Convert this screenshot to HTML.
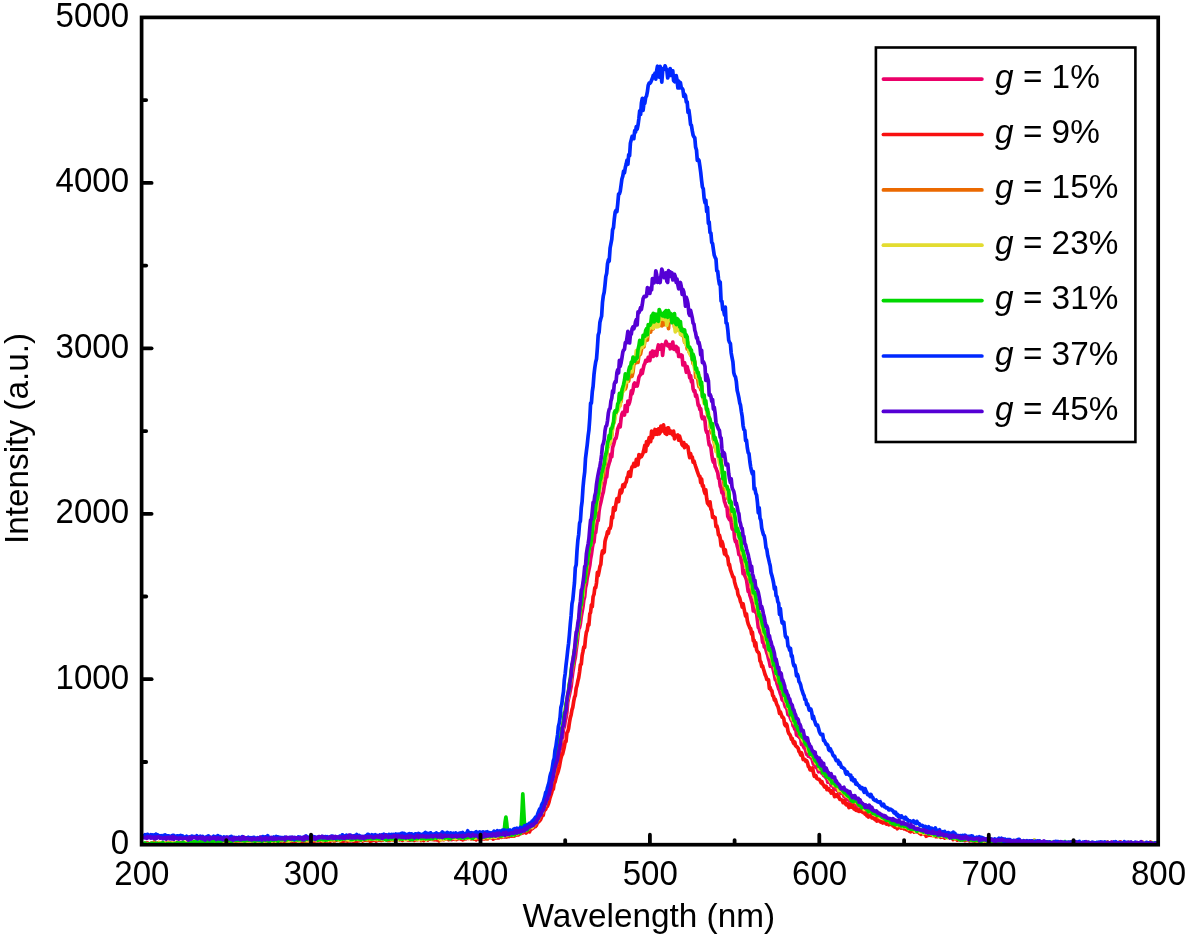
<!DOCTYPE html>
<html lang="en"><head><meta charset="utf-8"><title>Emission spectra</title>
<style>
html,body{margin:0;padding:0;background:#fff;}
svg{display:block;filter:blur(0.5px);}
text{font-family:"Liberation Sans",Arial,Helvetica,sans-serif;font-size:33.33px;fill:#000;}
.curves path{fill:none;stroke-width:3.7;stroke-linejoin:round;stroke-linecap:round;}
.ax line{stroke:#000;stroke-width:3.8;stroke-linecap:round;}
.lg line{stroke-width:3.7;stroke-linecap:round;}
</style></head><body>
<svg width="1187" height="937" viewBox="0 0 1187 937">
<rect x="0" y="0" width="1187" height="937" fill="#fff"/>
<defs><clipPath id="pc"><rect x="141.6" y="17.4" width="1016.6" height="827.3"/></clipPath></defs>
<g class="curves" clip-path="url(#pc)">
<path d="M141.6,844.0 142.4,843.8 143.3,844.2 144.1,844.6 145.0,844.3 145.8,844.7 146.7,843.9 147.5,843.1 148.4,844.3 149.2,844.4 150.1,843.6 150.9,843.7 151.8,843.8 152.6,844.5 153.5,843.9 154.3,843.4 155.2,844.7 156.0,844.2 156.8,844.7 157.7,844.7 158.5,844.7 159.4,844.0 160.2,844.7 161.1,843.6 161.9,843.7 162.8,843.9 163.6,844.7 164.5,844.1 165.3,843.8 166.2,843.7 167.0,844.7 167.9,844.1 168.7,844.4 169.6,844.3 170.4,843.0 171.3,844.2 172.1,843.7 172.9,843.1 173.8,844.1 174.6,843.7 175.5,843.6 176.3,843.6 177.2,844.4 178.0,843.6 178.9,842.7 179.7,844.6 180.6,843.0 181.4,843.5 182.3,844.0 183.1,842.2 184.0,843.0 184.8,844.3 185.7,843.4 186.5,843.0 187.3,843.5 188.2,842.8 189.0,843.3 189.9,842.8 190.7,842.2 191.6,843.6 192.4,842.9 193.3,843.3 194.1,842.9 195.0,843.8 195.8,843.3 196.7,843.0 197.5,842.2 198.4,842.0 199.2,843.6 200.1,843.2 200.9,842.2 201.7,843.9 202.6,842.8 203.4,842.5 204.3,841.6 205.1,841.9 206.0,842.6 206.8,842.5 207.7,842.4 208.5,841.1 209.4,842.4 210.2,842.3 211.1,841.8 211.9,842.1 212.8,842.1 213.6,842.7 214.5,841.9 215.3,842.1 216.2,841.0 217.0,841.3 217.8,841.7 218.7,841.2 219.5,841.8 220.4,840.8 221.2,841.5 222.1,841.0 222.9,842.3 223.8,841.1 224.6,842.5 225.5,842.7 226.3,841.4 227.2,841.8 228.0,841.1 228.9,839.6 229.7,841.8 230.6,841.6 231.4,841.0 232.2,840.8 233.1,841.2 233.9,841.3 234.8,840.6 235.6,840.7 236.5,841.8 237.3,841.1 238.2,841.0 239.0,841.8 239.9,840.8 240.7,841.6 241.6,840.3 242.4,840.8 243.3,840.9 244.1,841.4 245.0,841.0 245.8,842.3 246.6,841.7 247.5,840.6 248.3,842.4 249.2,840.3 250.0,842.1 250.9,840.3 251.7,841.4 252.6,840.3 253.4,840.7 254.3,841.9 255.1,839.9 256.0,839.7 256.8,840.8 257.7,840.9 258.5,840.8 259.4,841.4 260.2,839.9 261.1,841.1 261.9,840.7 262.7,841.2 263.6,841.1 264.4,841.5 265.3,839.7 266.1,840.7 267.0,839.9 267.8,840.6 268.7,841.1 269.5,840.8 270.4,840.9 271.2,840.5 272.1,840.8 272.9,840.7 273.8,841.5 274.6,841.0 275.5,839.3 276.3,840.9 277.1,841.2 278.0,840.2 278.8,839.4 279.7,841.4 280.5,840.5 281.4,840.8 282.2,841.6 283.1,839.8 283.9,840.3 284.8,840.3 285.6,840.8 286.5,840.0 287.3,840.7 288.2,840.4 289.0,841.0 289.9,841.1 290.7,839.3 291.5,840.6 292.4,840.0 293.2,840.2 294.1,840.5 294.9,840.5 295.8,839.7 296.6,840.3 297.5,840.2 298.3,840.1 299.2,839.2 300.0,839.6 300.9,839.8 301.7,840.5 302.6,841.0 303.4,839.3 304.3,839.3 305.1,840.1 306.0,839.6 306.8,839.4 307.6,839.4 308.5,839.3 309.3,840.3 310.2,838.8 311.0,840.8 311.9,839.3 312.7,839.5 313.6,839.2 314.4,838.5 315.3,838.8 316.1,840.7 317.0,841.1 317.8,839.2 318.7,840.5 319.5,839.8 320.4,839.2 321.2,841.0 322.0,841.3 322.9,839.6 323.7,839.7 324.6,839.9 325.4,839.7 326.3,840.3 327.1,840.8 328.0,839.8 328.8,840.4 329.7,840.9 330.5,839.3 331.4,839.7 332.2,839.4 333.1,840.4 333.9,840.1 334.8,840.4 335.6,840.3 336.4,839.5 337.3,840.2 338.1,839.3 339.0,839.3 339.8,838.1 340.7,840.6 341.5,838.9 342.4,839.6 343.2,839.5 344.1,840.6 344.9,839.8 345.8,839.0 346.6,839.5 347.5,839.4 348.3,839.7 349.2,838.6 350.0,839.5 350.9,841.0 351.7,839.9 352.5,840.9 353.4,841.8 354.2,839.8 355.1,838.4 355.9,839.3 356.8,840.2 357.6,840.0 358.5,838.5 359.3,839.2 360.2,839.3 361.0,839.4 361.9,839.3 362.7,838.7 363.6,838.9 364.4,839.1 365.3,840.0 366.1,838.9 366.9,839.7 367.8,838.4 368.6,840.2 369.5,839.3 370.3,839.2 371.2,840.2 372.0,837.9 372.9,838.1 373.7,839.5 374.6,838.6 375.4,838.9 376.3,841.1 377.1,838.9 378.0,839.2 378.8,839.0 379.7,839.9 380.5,839.3 381.3,839.2 382.2,838.2 383.0,838.8 383.9,839.1 384.7,837.9 385.6,839.4 386.4,839.3 387.3,840.3 388.1,837.8 389.0,838.3 389.8,838.3 390.7,838.5 391.5,838.9 392.4,838.8 393.2,839.1 394.1,839.1 394.9,838.9 395.8,837.8 396.6,838.5 397.4,838.9 398.3,839.3 399.1,839.3 400.0,837.7 400.8,838.5 401.7,838.8 402.5,839.1 403.4,839.6 404.2,838.8 405.1,838.1 405.9,839.1 406.8,838.9 407.6,838.9 408.5,838.6 409.3,839.9 410.2,838.9 411.0,839.3 411.8,838.0 412.7,839.2 413.5,838.2 414.4,837.5 415.2,838.9 416.1,839.1 416.9,838.5 417.8,838.6 418.6,839.3 419.5,838.2 420.3,837.1 421.2,838.7 422.0,838.7 422.9,839.3 423.7,838.3 424.6,839.4 425.4,839.3 426.2,837.5 427.1,839.1 427.9,837.6 428.8,837.3 429.6,838.2 430.5,838.0 431.3,837.0 432.2,838.5 433.0,838.8 433.9,839.4 434.7,838.3 435.6,837.2 436.4,837.6 437.3,839.0 438.1,838.9 439.0,838.7 439.8,838.1 440.6,838.4 441.5,838.1 442.3,838.0 443.2,838.4 444.0,838.2 444.9,838.0 445.7,838.2 446.6,837.8 447.4,836.8 448.3,837.7 449.1,838.1 450.0,839.4 450.8,837.8 451.7,839.5 452.5,839.1 453.4,837.4 454.2,837.5 455.1,838.1 455.9,839.3 456.7,838.3 457.6,838.5 458.4,837.5 459.3,836.3 460.1,837.8 461.0,838.5 461.8,838.8 462.7,837.9 463.5,838.0 464.4,838.7 465.2,837.8 466.1,838.7 466.9,837.0 467.8,837.0 468.6,837.0 469.5,838.1 470.3,837.3 471.1,837.8 472.0,838.0 472.8,837.9 473.7,838.6 474.5,838.7 475.4,837.0 476.2,837.7 477.1,837.4 477.9,836.8 478.8,838.8 479.6,838.1 480.5,837.4 481.3,837.1 482.2,837.7 483.0,836.6 483.9,837.1 484.7,838.2 485.5,837.9 486.4,836.5 487.2,836.7 488.1,838.5 488.9,835.9 489.8,836.5 490.6,835.8 491.5,837.1 492.3,837.0 493.2,837.5 494.0,834.7 494.9,836.7 495.7,835.3 496.6,836.9 497.4,836.2 498.3,837.6 499.1,836.5 500.0,835.4 500.8,837.0 501.6,835.2 502.5,835.7 503.3,836.6 504.2,836.1 505.0,836.0 505.9,835.6 506.7,835.9 507.6,836.0 508.4,835.5 509.3,836.0 510.1,836.0 511.0,835.0 511.8,834.1 512.7,835.8 513.5,834.5 514.4,834.9 515.2,835.0 516.0,833.3 516.9,834.2 517.7,832.4 518.6,834.0 519.4,832.8 520.3,833.1 521.1,833.3 522.0,831.9 522.8,832.2 523.7,831.3 524.5,831.5 525.4,832.0 526.2,830.8 527.1,830.3 527.9,829.1 528.8,830.2 529.6,828.9 530.4,829.8 531.3,827.1 532.1,827.9 533.0,827.9 533.8,825.5 534.7,823.6 535.5,825.0 536.4,823.6 537.2,822.3 538.1,821.5 538.9,818.8 539.8,818.6 540.6,817.0 541.5,814.2 542.3,813.9 543.2,810.9 544.0,810.5 544.9,808.7 545.7,807.3 546.5,801.0 547.4,801.0 548.2,797.9 549.1,795.5 549.9,792.5 550.8,789.7 551.6,784.3 552.5,784.7 553.3,782.0 554.2,777.8 555.0,774.6 555.9,768.2 556.7,764.2 557.6,762.8 558.4,759.3 559.3,753.7 560.1,746.8 560.9,748.7 561.8,739.0 562.6,736.8 563.5,728.7 564.3,727.2 565.2,721.0 566.0,717.9 566.9,711.9 567.7,702.6 568.6,698.2 569.4,694.9 570.3,690.3 571.1,686.7 572.0,678.4 572.8,672.1 573.7,666.6 574.5,661.0 575.3,657.3 576.2,649.6 577.0,644.0 577.9,635.7 578.7,628.9 579.6,627.5 580.4,623.3 581.3,616.3 582.1,612.0 583.0,606.8 583.8,599.9 584.7,596.7 585.5,587.7 586.4,584.1 587.2,578.0 588.1,573.9 588.9,570.0 589.8,565.5 590.6,558.8 591.4,554.7 592.3,547.9 593.1,543.5 594.0,542.0 594.8,533.7 595.7,532.4 596.5,526.0 597.4,520.6 598.2,520.6 599.1,510.6 599.9,506.0 600.8,502.5 601.6,498.9 602.5,494.6 603.3,492.1 604.2,486.2 605.0,482.9 605.8,477.3 606.7,477.0 607.5,469.3 608.4,465.9 609.2,463.0 610.1,460.3 610.9,454.1 611.8,456.8 612.6,447.6 613.5,445.0 614.3,441.7 615.2,438.4 616.0,438.3 616.9,434.2 617.7,428.9 618.6,426.7 619.4,424.7 620.2,426.9 621.1,418.4 621.9,414.1 622.8,412.2 623.6,412.0 624.5,415.0 625.3,405.5 626.2,406.6 627.0,411.5 627.9,401.0 628.7,404.5 629.6,402.1 630.4,398.3 631.3,390.9 632.1,393.9 633.0,390.3 633.8,384.2 634.7,382.9 635.5,386.1 636.3,384.8 637.2,386.0 638.0,382.5 638.9,377.3 639.7,375.6 640.6,374.5 641.4,370.0 642.3,373.4 643.1,369.3 644.0,365.1 644.8,363.7 645.7,360.4 646.5,360.6 647.4,361.1 648.2,357.4 649.1,360.1 649.9,360.6 650.7,352.5 651.6,353.3 652.4,351.1 653.3,356.4 654.1,351.5 655.0,351.5 655.8,351.7 656.7,355.5 657.5,349.2 658.4,345.0 659.2,346.4 660.1,349.2 660.9,347.2 661.8,344.7 662.6,355.4 663.5,347.2 664.3,345.1 665.1,344.6 666.0,341.4 666.8,343.2 667.7,345.8 668.5,345.9 669.4,344.6 670.2,348.8 671.1,347.6 671.9,345.0 672.8,342.1 673.6,349.1 674.5,349.4 675.3,349.3 676.2,346.5 677.0,351.6 677.9,348.0 678.7,356.5 679.6,355.3 680.4,356.6 681.2,355.0 682.1,355.6 682.9,365.0 683.8,364.9 684.6,362.8 685.5,367.7 686.3,372.3 687.2,366.6 688.0,370.3 688.9,372.5 689.7,377.7 690.6,375.6 691.4,381.8 692.3,380.3 693.1,388.8 694.0,391.3 694.8,390.8 695.6,396.2 696.5,395.0 697.3,399.0 698.2,405.3 699.0,405.3 699.9,409.5 700.7,408.8 701.6,416.3 702.4,418.7 703.3,417.1 704.1,417.2 705.0,421.0 705.8,429.6 706.7,432.3 707.5,431.7 708.4,439.5 709.2,445.1 710.0,445.2 710.9,447.4 711.7,454.1 712.6,459.6 713.4,462.1 714.3,459.6 715.1,466.6 716.0,468.2 716.8,470.4 717.7,472.5 718.5,478.2 719.4,479.2 720.2,486.1 721.1,487.9 721.9,492.8 722.8,490.3 723.6,496.5 724.5,501.6 725.3,503.7 726.1,506.6 727.0,507.4 727.8,516.5 728.7,518.2 729.5,519.7 730.4,515.5 731.2,522.7 732.1,528.5 732.9,529.6 733.8,529.5 734.6,538.3 735.5,541.7 736.3,541.0 737.2,545.9 738.0,548.6 738.9,554.6 739.7,551.9 740.5,555.6 741.4,561.4 742.2,564.3 743.1,573.7 743.9,570.6 744.8,575.7 745.6,577.3 746.5,579.8 747.3,585.3 748.2,591.4 749.0,589.8 749.9,595.4 750.7,597.5 751.6,601.1 752.4,603.6 753.3,610.9 754.1,606.2 754.9,611.3 755.8,612.5 756.6,613.6 757.5,620.8 758.3,627.6 759.2,628.6 760.0,632.1 760.9,633.5 761.7,635.2 762.6,642.3 763.4,640.4 764.3,647.0 765.1,646.1 766.0,649.7 766.8,652.9 767.7,655.1 768.5,658.8 769.4,661.6 770.2,666.3 771.0,665.8 771.9,664.8 772.7,667.2 773.6,671.0 774.4,674.7 775.3,679.8 776.1,678.4 777.0,683.6 777.8,686.0 778.7,688.9 779.5,690.5 780.4,693.8 781.2,695.5 782.1,699.6 782.9,700.6 783.8,698.2 784.6,704.5 785.4,706.9 786.3,707.7 787.1,709.5 788.0,714.7 788.8,715.2 789.7,715.4 790.5,718.4 791.4,720.6 792.2,720.2 793.1,725.8 793.9,726.4 794.8,729.2 795.6,727.8 796.5,735.1 797.3,734.8 798.2,736.3 799.0,736.1 799.8,737.9 800.7,738.3 801.5,744.5 802.4,742.5 803.2,745.7 804.1,747.8 804.9,747.5 805.8,751.1 806.6,754.3 807.5,753.2 808.3,756.2 809.2,756.4 810.0,756.3 810.9,757.7 811.7,757.2 812.6,761.0 813.4,764.1 814.3,764.3 815.1,765.7 815.9,767.3 816.8,766.2 817.6,768.9 818.5,771.8 819.3,769.3 820.2,771.5 821.0,771.9 821.9,773.3 822.7,773.7 823.6,775.5 824.4,774.9 825.3,776.9 826.1,777.9 827.0,778.9 827.8,782.2 828.7,781.4 829.5,782.5 830.3,782.7 831.2,785.6 832.0,782.7 832.9,785.4 833.7,787.9 834.6,789.3 835.4,788.4 836.3,788.9 837.1,790.4 838.0,790.2 838.8,791.8 839.7,791.2 840.5,793.4 841.4,793.3 842.2,792.8 843.1,791.7 843.9,796.5 844.7,796.6 845.6,797.7 846.4,796.4 847.3,799.3 848.1,799.2 849.0,799.3 849.8,801.0 850.7,801.5 851.5,801.6 852.4,804.0 853.2,803.8 854.1,803.3 854.9,803.2 855.8,804.2 856.6,806.4 857.5,805.6 858.3,804.8 859.2,805.6 860.0,806.8 860.8,808.1 861.7,807.0 862.5,808.8 863.4,809.9 864.2,810.0 865.1,808.2 865.9,810.0 866.8,809.5 867.6,811.6 868.5,810.6 869.3,812.7 870.2,812.7 871.0,810.4 871.9,812.6 872.7,814.3 873.6,814.4 874.4,814.4 875.2,813.9 876.1,816.0 876.9,817.7 877.8,816.6 878.6,816.7 879.5,817.1 880.3,816.3 881.2,817.6 882.0,817.5 882.9,819.8 883.7,818.3 884.6,817.5 885.4,819.1 886.3,819.9 887.1,820.4 888.0,819.2 888.8,822.1 889.6,821.7 890.5,821.5 891.3,821.6 892.2,823.0 893.0,822.6 893.9,823.5 894.7,823.5 895.6,824.0 896.4,825.2 897.3,824.5 898.1,824.0 899.0,826.0 899.8,825.6 900.7,825.1 901.5,826.9 902.4,826.1 903.2,827.5 904.1,825.8 904.9,825.1 905.7,825.6 906.6,827.8 907.4,827.3 908.3,828.1 909.1,828.3 910.0,827.3 910.8,830.0 911.7,828.3 912.5,829.4 913.4,828.5 914.2,829.7 915.1,830.7 915.9,830.1 916.8,829.9 917.6,830.7 918.5,830.6 919.3,831.6 920.1,833.2 921.0,830.9 921.8,831.3 922.7,831.9 923.5,832.2 924.4,831.6 925.2,833.0 926.1,833.4 926.9,833.2 927.8,832.3 928.6,834.5 929.5,832.6 930.3,834.3 931.2,834.8 932.0,833.1 932.9,834.4 933.7,835.5 934.5,834.9 935.4,834.0 936.2,834.0 937.1,835.4 937.9,834.9 938.8,834.8 939.6,836.1 940.5,835.4 941.3,835.9 942.2,836.4 943.0,836.5 943.9,836.2 944.7,836.4 945.6,837.0 946.4,837.0 947.3,835.9 948.1,836.7 948.9,836.4 949.8,836.2 950.6,836.8 951.5,835.7 952.3,838.1 953.2,837.0 954.0,838.0 954.9,836.4 955.7,836.7 956.6,839.5 957.4,838.9 958.3,837.7 959.1,837.7 960.0,837.9 960.8,838.6 961.7,838.3 962.5,838.2 963.4,838.8 964.2,838.1 965.0,840.6 965.9,838.6 966.7,839.9 967.6,838.5 968.4,839.4 969.3,840.0 970.1,839.2 971.0,840.2 971.8,840.2 972.7,840.8 973.5,839.7 974.4,839.4 975.2,839.1 976.1,840.0 976.9,839.2 977.8,840.0 978.6,840.2 979.4,839.7 980.3,839.5 981.1,840.5 982.0,840.5 982.8,840.5 983.7,840.4 984.5,841.1 985.4,839.8 986.2,840.9 987.1,840.3 987.9,841.3 988.8,840.5 989.6,840.5 990.5,841.2 991.3,839.5 992.2,840.7 993.0,839.7 993.8,840.4 994.7,841.6 995.5,841.4 996.4,840.9 997.2,841.2 998.1,841.3 998.9,841.5 999.8,842.7 1000.6,841.6 1001.5,843.0 1002.3,841.2 1003.2,842.1 1004.0,842.1 1004.9,841.8 1005.7,841.5 1006.6,842.7 1007.4,843.0 1008.3,842.5 1009.1,843.3 1009.9,842.5 1010.8,840.8 1011.6,842.7 1012.5,841.5 1013.3,843.0 1014.2,841.8 1015.0,842.3 1015.9,842.1 1016.7,841.7 1017.6,840.9 1018.4,842.1 1019.3,842.1 1020.1,842.9 1021.0,841.9 1021.8,842.5 1022.7,841.8 1023.5,842.4 1024.3,841.2 1025.2,843.8 1026.0,842.7 1026.9,841.9 1027.7,842.8 1028.6,843.1 1029.4,842.7 1030.3,843.5 1031.1,842.5 1032.0,841.0 1032.8,841.9 1033.7,843.5 1034.5,843.3 1035.4,843.0 1036.2,842.1 1037.1,843.4 1037.9,843.3 1038.7,842.2 1039.6,842.3 1040.4,843.1 1041.3,843.7 1042.1,844.0 1043.0,843.4 1043.8,844.5 1044.7,842.5 1045.5,843.5 1046.4,842.7 1047.2,841.8 1048.1,842.3 1048.9,843.9 1049.8,842.5 1050.6,842.4 1051.5,843.7 1052.3,843.8 1053.2,843.3 1054.0,844.3 1054.8,842.2 1055.7,844.7 1056.5,844.0 1057.4,843.5 1058.2,843.5 1059.1,843.2 1059.9,843.1 1060.8,843.5 1061.6,842.6 1062.5,844.7 1063.3,843.4 1064.2,843.9 1065.0,843.3 1065.9,843.2 1066.7,844.0 1067.6,843.8 1068.4,842.9 1069.2,843.2 1070.1,843.9 1070.9,842.0 1071.8,841.9 1072.6,844.4 1073.5,843.2 1074.3,841.8 1075.2,842.9 1076.0,843.3 1076.9,843.6 1077.7,843.8 1078.6,843.6 1079.4,843.9 1080.3,843.0 1081.1,843.8 1082.0,843.8 1082.8,844.3 1083.6,843.6 1084.5,844.1 1085.3,843.7 1086.2,842.8 1087.0,843.3 1087.9,843.2 1088.7,843.3 1089.6,843.5 1090.4,843.7 1091.3,843.8 1092.1,843.1 1093.0,844.3 1093.8,842.7 1094.7,843.6 1095.5,844.1 1096.4,844.0 1097.2,844.1 1098.1,843.5 1098.9,844.1 1099.7,842.9 1100.6,844.2 1101.4,844.7 1102.3,844.2 1103.1,844.7 1104.0,843.7 1104.8,843.0 1105.7,843.3 1106.5,844.6 1107.4,844.2 1108.2,842.5 1109.1,843.5 1109.9,843.7 1110.8,843.0 1111.6,842.1 1112.5,842.9 1113.3,843.6 1114.1,843.5 1115.0,843.3 1115.8,844.2 1116.7,844.5 1117.5,843.7 1118.4,844.4 1119.2,843.8 1120.1,843.7 1120.9,842.2 1121.8,844.4 1122.6,843.9 1123.5,843.9 1124.3,843.5 1125.2,843.1 1126.0,844.2 1126.9,844.4 1127.7,844.7 1128.5,844.5 1129.4,843.5 1130.2,843.8 1131.1,844.5 1131.9,844.1 1132.8,843.8 1133.6,843.5 1134.5,844.3 1135.3,844.1 1136.2,844.7 1137.0,844.7 1137.9,842.8 1138.7,844.7 1139.6,844.1 1140.4,843.8 1141.3,844.2 1142.1,844.5 1143.0,844.0 1143.8,843.9 1144.6,844.0 1145.5,844.7 1146.3,844.1 1147.2,844.5 1148.0,844.3 1148.9,843.8 1149.7,843.6 1150.6,843.4 1151.4,844.3 1152.3,843.4 1153.1,843.2 1154.0,843.2 1154.8,843.1 1155.7,844.1 1156.5,844.1 1157.4,843.5 1158.2,844.7" stroke="#EB0069"/>
<path d="M141.6,843.6 142.4,844.1 143.3,843.9 144.1,844.7 145.0,844.3 145.8,843.7 146.7,843.1 147.5,843.0 148.4,843.7 149.2,843.8 150.1,844.2 150.9,843.4 151.8,843.8 152.6,843.2 153.5,842.4 154.3,843.6 155.2,844.6 156.0,844.2 156.8,844.6 157.7,844.4 158.5,842.7 159.4,843.4 160.2,844.6 161.1,843.1 161.9,842.7 162.8,843.8 163.6,844.0 164.5,843.8 165.3,843.3 166.2,843.1 167.0,842.7 167.9,842.7 168.7,842.7 169.6,842.6 170.4,843.0 171.3,844.5 172.1,843.6 172.9,843.2 173.8,843.7 174.6,842.8 175.5,843.7 176.3,844.1 177.2,842.4 178.0,843.0 178.9,843.3 179.7,842.8 180.6,842.7 181.4,843.2 182.3,844.7 183.1,843.8 184.0,843.7 184.8,844.0 185.7,843.2 186.5,842.5 187.3,843.6 188.2,844.0 189.0,841.8 189.9,843.5 190.7,844.0 191.6,842.9 192.4,842.8 193.3,843.5 194.1,842.5 195.0,843.3 195.8,843.6 196.7,842.8 197.5,842.4 198.4,843.3 199.2,842.6 200.1,842.9 200.9,840.8 201.7,843.2 202.6,841.8 203.4,842.7 204.3,842.7 205.1,842.1 206.0,842.0 206.8,841.7 207.7,842.3 208.5,842.9 209.4,842.9 210.2,842.1 211.1,842.0 211.9,841.4 212.8,842.1 213.6,841.6 214.5,841.3 215.3,842.2 216.2,843.3 217.0,843.0 217.8,843.2 218.7,841.0 219.5,842.7 220.4,841.2 221.2,841.7 222.1,840.8 222.9,841.3 223.8,842.0 224.6,842.1 225.5,841.9 226.3,841.8 227.2,842.2 228.0,841.9 228.9,840.7 229.7,843.0 230.6,841.6 231.4,842.4 232.2,841.7 233.1,841.2 233.9,841.8 234.8,841.2 235.6,842.9 236.5,841.0 237.3,842.1 238.2,841.3 239.0,841.6 239.9,843.5 240.7,842.2 241.6,841.5 242.4,840.5 243.3,841.4 244.1,841.4 245.0,842.6 245.8,840.6 246.6,840.3 247.5,841.5 248.3,841.7 249.2,842.7 250.0,840.9 250.9,839.6 251.7,841.0 252.6,840.6 253.4,841.1 254.3,842.1 255.1,840.5 256.0,842.3 256.8,841.6 257.7,841.2 258.5,840.8 259.4,841.1 260.2,841.1 261.1,841.9 261.9,842.2 262.7,841.3 263.6,841.8 264.4,842.2 265.3,842.2 266.1,841.6 267.0,842.6 267.8,842.2 268.7,842.4 269.5,841.1 270.4,840.9 271.2,839.8 272.1,842.2 272.9,841.6 273.8,840.5 274.6,841.3 275.5,841.4 276.3,839.9 277.1,841.3 278.0,841.9 278.8,842.0 279.7,840.8 280.5,840.8 281.4,842.0 282.2,841.7 283.1,840.6 283.9,840.6 284.8,841.4 285.6,840.5 286.5,840.5 287.3,842.2 288.2,841.1 289.0,840.6 289.9,841.3 290.7,842.4 291.5,841.1 292.4,840.3 293.2,839.7 294.1,842.4 294.9,839.0 295.8,841.6 296.6,840.1 297.5,839.9 298.3,840.1 299.2,840.6 300.0,841.6 300.9,840.3 301.7,841.2 302.6,842.5 303.4,838.7 304.3,840.2 305.1,839.4 306.0,841.3 306.8,839.6 307.6,839.5 308.5,839.5 309.3,840.6 310.2,841.4 311.0,840.7 311.9,842.1 312.7,841.8 313.6,840.5 314.4,841.2 315.3,840.6 316.1,840.6 317.0,839.1 317.8,839.6 318.7,840.5 319.5,839.6 320.4,841.0 321.2,840.7 322.0,839.8 322.9,841.3 323.7,840.6 324.6,841.4 325.4,840.3 326.3,839.2 327.1,840.9 328.0,840.2 328.8,841.0 329.7,841.2 330.5,841.2 331.4,839.3 332.2,838.6 333.1,840.0 333.9,840.8 334.8,839.8 335.6,840.5 336.4,839.7 337.3,840.0 338.1,840.0 339.0,839.8 339.8,840.6 340.7,840.5 341.5,841.4 342.4,840.5 343.2,841.2 344.1,840.3 344.9,840.9 345.8,840.1 346.6,839.8 347.5,841.2 348.3,840.7 349.2,840.8 350.0,839.6 350.9,838.9 351.7,839.5 352.5,840.3 353.4,839.0 354.2,841.2 355.1,839.0 355.9,840.5 356.8,842.0 357.6,838.1 358.5,838.9 359.3,840.7 360.2,839.9 361.0,840.1 361.9,839.9 362.7,841.0 363.6,840.4 364.4,839.6 365.3,839.8 366.1,839.0 366.9,839.8 367.8,838.2 368.6,840.4 369.5,839.7 370.3,841.3 371.2,840.8 372.0,838.9 372.9,840.5 373.7,839.4 374.6,839.9 375.4,840.6 376.3,840.1 377.1,840.2 378.0,840.1 378.8,839.2 379.7,839.3 380.5,840.2 381.3,840.4 382.2,839.5 383.0,839.8 383.9,839.0 384.7,837.8 385.6,839.1 386.4,839.7 387.3,839.8 388.1,840.3 389.0,840.3 389.8,840.4 390.7,839.9 391.5,839.9 392.4,839.1 393.2,839.9 394.1,839.7 394.9,840.5 395.8,838.4 396.6,839.2 397.4,838.2 398.3,839.0 399.1,838.4 400.0,839.7 400.8,839.0 401.7,837.5 402.5,840.4 403.4,838.6 404.2,838.2 405.1,839.1 405.9,838.9 406.8,838.5 407.6,839.9 408.5,839.1 409.3,840.0 410.2,839.9 411.0,839.8 411.8,839.5 412.7,839.2 413.5,839.0 414.4,840.4 415.2,837.8 416.1,838.4 416.9,838.7 417.8,839.5 418.6,839.3 419.5,838.8 420.3,838.9 421.2,840.5 422.0,838.6 422.9,837.0 423.7,840.6 424.6,838.4 425.4,838.9 426.2,839.2 427.1,838.1 427.9,840.0 428.8,839.0 429.6,838.0 430.5,839.2 431.3,839.4 432.2,839.0 433.0,839.4 433.9,837.9 434.7,839.7 435.6,838.3 436.4,839.9 437.3,838.5 438.1,839.0 439.0,840.9 439.8,838.9 440.6,839.7 441.5,839.3 442.3,837.7 443.2,839.7 444.0,839.7 444.9,837.8 445.7,838.8 446.6,837.7 447.4,838.6 448.3,839.5 449.1,838.8 450.0,837.8 450.8,838.1 451.7,838.8 452.5,838.7 453.4,838.8 454.2,839.2 455.1,837.2 455.9,838.7 456.7,839.5 457.6,839.0 458.4,838.1 459.3,838.1 460.1,838.7 461.0,839.1 461.8,838.6 462.7,839.8 463.5,839.5 464.4,837.9 465.2,838.9 466.1,838.2 466.9,837.6 467.8,838.0 468.6,838.4 469.5,836.8 470.3,837.9 471.1,838.7 472.0,837.8 472.8,838.0 473.7,839.0 474.5,838.3 475.4,838.4 476.2,839.8 477.1,838.4 477.9,838.5 478.8,838.6 479.6,839.5 480.5,838.5 481.3,838.2 482.2,838.0 483.0,838.9 483.9,837.5 484.7,838.9 485.5,838.1 486.4,836.8 487.2,838.3 488.1,838.1 488.9,836.9 489.8,837.9 490.6,837.8 491.5,837.4 492.3,836.7 493.2,839.1 494.0,838.0 494.9,838.1 495.7,838.1 496.6,837.8 497.4,837.8 498.3,836.8 499.1,837.7 500.0,836.8 500.8,836.5 501.6,837.3 502.5,836.6 503.3,835.3 504.2,836.3 505.0,836.9 505.9,836.4 506.7,837.0 507.6,836.0 508.4,835.4 509.3,836.6 510.1,836.0 511.0,834.9 511.8,836.0 512.7,835.3 513.5,836.2 514.4,835.9 515.2,835.5 516.0,833.2 516.9,835.0 517.7,834.9 518.6,834.8 519.4,834.2 520.3,833.4 521.1,833.5 522.0,831.7 522.8,832.9 523.7,831.6 524.5,832.3 525.4,831.7 526.2,833.0 527.1,831.6 527.9,831.1 528.8,830.8 529.6,831.9 530.4,828.8 531.3,829.3 532.1,828.8 533.0,827.9 533.8,827.2 534.7,825.8 535.5,826.5 536.4,825.3 537.2,823.2 538.1,822.2 538.9,821.6 539.8,820.5 540.6,819.5 541.5,817.3 542.3,814.6 543.2,815.3 544.0,811.0 544.9,809.9 545.7,809.3 546.5,806.0 547.4,806.3 548.2,804.4 549.1,801.6 549.9,798.1 550.8,795.5 551.6,793.0 552.5,789.4 553.3,789.2 554.2,782.9 555.0,782.1 555.9,778.4 556.7,775.3 557.6,773.3 558.4,770.6 559.3,767.1 560.1,762.6 560.9,758.5 561.8,755.2 562.6,754.1 563.5,750.3 564.3,747.0 565.2,741.4 566.0,741.6 566.9,732.8 567.7,731.7 568.6,728.4 569.4,722.8 570.3,717.7 571.1,714.9 572.0,709.7 572.8,707.3 573.7,701.4 574.5,697.3 575.3,695.6 576.2,688.0 577.0,685.5 577.9,680.8 578.7,677.8 579.6,671.8 580.4,665.0 581.3,664.2 582.1,655.6 583.0,651.4 583.8,646.8 584.7,647.2 585.5,638.2 586.4,632.1 587.2,630.4 588.1,624.1 588.9,624.9 589.8,613.9 590.6,612.4 591.4,604.8 592.3,606.5 593.1,596.6 594.0,594.4 594.8,587.9 595.7,587.7 596.5,583.0 597.4,572.4 598.2,575.5 599.1,571.4 599.9,566.6 600.8,564.6 601.6,555.7 602.5,550.8 603.3,553.0 604.2,552.0 605.0,541.5 605.8,538.3 606.7,535.7 607.5,531.6 608.4,533.4 609.2,528.6 610.1,528.5 610.9,525.7 611.8,516.7 612.6,518.0 613.5,507.7 614.3,510.6 615.2,509.8 616.0,503.6 616.9,498.5 617.7,499.4 618.6,501.5 619.4,495.1 620.2,490.2 621.1,493.0 621.9,491.6 622.8,484.9 623.6,485.3 624.5,486.7 625.3,483.0 626.2,482.2 627.0,477.7 627.9,476.6 628.7,472.2 629.6,471.8 630.4,476.4 631.3,469.6 632.1,466.8 633.0,466.5 633.8,463.5 634.7,466.4 635.5,466.0 636.3,459.4 637.2,463.4 638.0,464.9 638.9,454.6 639.7,457.9 640.6,455.2 641.4,456.6 642.3,454.9 643.1,452.8 644.0,449.1 644.8,445.5 645.7,451.4 646.5,441.5 647.4,445.5 648.2,443.8 649.1,437.7 649.9,438.6 650.7,441.6 651.6,431.2 652.4,437.9 653.3,434.0 654.1,433.5 655.0,429.5 655.8,434.3 656.7,429.8 657.5,434.3 658.4,428.8 659.2,433.9 660.1,432.6 660.9,426.1 661.8,430.4 662.6,430.9 663.5,424.8 664.3,430.1 665.1,433.4 666.0,429.0 666.8,434.4 667.7,427.9 668.5,427.8 669.4,432.9 670.2,433.3 671.1,431.2 671.9,431.9 672.8,435.1 673.6,431.1 674.5,438.9 675.3,435.0 676.2,435.5 677.0,435.9 677.9,435.0 678.7,440.2 679.6,436.1 680.4,439.2 681.2,441.6 682.1,444.8 682.9,445.6 683.8,442.6 684.6,447.6 685.5,446.2 686.3,445.0 687.2,446.7 688.0,446.9 688.9,453.7 689.7,457.6 690.6,453.6 691.4,457.4 692.3,457.1 693.1,462.1 694.0,460.9 694.8,463.8 695.6,466.3 696.5,468.9 697.3,471.4 698.2,474.0 699.0,476.2 699.9,476.4 700.7,482.6 701.6,479.0 702.4,486.1 703.3,485.6 704.1,490.7 705.0,493.5 705.8,489.9 706.7,498.4 707.5,503.3 708.4,504.3 709.2,505.7 710.0,501.8 710.9,509.3 711.7,509.9 712.6,517.3 713.4,516.4 714.3,518.1 715.1,517.7 716.0,526.5 716.8,525.8 717.7,529.1 718.5,534.9 719.4,535.0 720.2,538.2 721.1,545.8 721.9,541.3 722.8,544.0 723.6,549.0 724.5,553.8 725.3,549.7 726.1,555.2 727.0,556.1 727.8,557.8 728.7,565.0 729.5,564.5 730.4,569.6 731.2,571.9 732.1,574.5 732.9,577.0 733.8,577.0 734.6,581.9 735.5,585.2 736.3,588.1 737.2,589.3 738.0,594.7 738.9,596.4 739.7,598.0 740.5,601.7 741.4,603.3 742.2,607.0 743.1,603.9 743.9,608.0 744.8,612.5 745.6,616.1 746.5,613.9 747.3,620.5 748.2,623.9 749.0,625.7 749.9,628.2 750.7,628.5 751.6,634.0 752.4,632.2 753.3,640.8 754.1,640.1 754.9,646.1 755.8,642.9 756.6,649.7 757.5,651.7 758.3,652.2 759.2,654.0 760.0,661.1 760.9,662.1 761.7,666.5 762.6,666.0 763.4,668.8 764.3,671.7 765.1,674.7 766.0,676.5 766.8,679.5 767.7,679.4 768.5,679.9 769.4,688.5 770.2,687.5 771.0,690.3 771.9,690.9 772.7,695.6 773.6,696.4 774.4,700.1 775.3,699.2 776.1,702.4 777.0,705.0 777.8,706.1 778.7,709.2 779.5,713.5 780.4,711.9 781.2,714.4 782.1,717.1 782.9,717.1 783.8,718.7 784.6,724.3 785.4,725.7 786.3,723.8 787.1,725.8 788.0,731.1 788.8,733.5 789.7,734.4 790.5,735.9 791.4,739.3 792.2,738.4 793.1,742.1 793.9,743.6 794.8,742.0 795.6,745.9 796.5,746.6 797.3,747.1 798.2,748.3 799.0,751.5 799.8,752.3 800.7,755.0 801.5,752.7 802.4,755.7 803.2,759.5 804.1,759.3 804.9,759.6 805.8,761.3 806.6,760.7 807.5,762.5 808.3,766.4 809.2,767.0 810.0,769.8 810.9,768.9 811.7,770.2 812.6,767.9 813.4,772.5 814.3,776.4 815.1,775.6 815.9,775.6 816.8,778.4 817.6,778.9 818.5,779.3 819.3,779.4 820.2,780.9 821.0,782.8 821.9,781.6 822.7,784.2 823.6,785.0 824.4,786.9 825.3,787.1 826.1,786.1 827.0,789.7 827.8,788.7 828.7,788.5 829.5,790.6 830.3,790.6 831.2,793.0 832.0,790.9 832.9,791.9 833.7,793.6 834.6,796.6 835.4,796.5 836.3,794.8 837.1,794.7 838.0,796.9 838.8,796.5 839.7,799.3 840.5,799.4 841.4,799.8 842.2,800.0 843.1,802.7 843.9,800.6 844.7,800.8 845.6,804.1 846.4,804.8 847.3,803.5 848.1,805.2 849.0,807.6 849.8,804.7 850.7,805.9 851.5,807.1 852.4,804.9 853.2,807.5 854.1,808.9 854.9,808.5 855.8,810.2 856.6,810.4 857.5,809.6 858.3,811.1 859.2,811.4 860.0,809.7 860.8,811.0 861.7,811.5 862.5,812.2 863.4,812.7 864.2,812.2 865.1,814.1 865.9,812.6 866.8,815.8 867.6,815.5 868.5,817.0 869.3,816.4 870.2,815.9 871.0,815.4 871.9,817.9 872.7,817.6 873.6,818.3 874.4,819.0 875.2,819.8 876.1,819.0 876.9,821.1 877.8,819.7 878.6,820.1 879.5,821.1 880.3,821.7 881.2,822.4 882.0,819.7 882.9,823.0 883.7,820.7 884.6,821.9 885.4,823.1 886.3,824.1 887.1,822.4 888.0,822.1 888.8,824.8 889.6,824.5 890.5,823.6 891.3,824.6 892.2,823.4 893.0,825.9 893.9,825.2 894.7,827.1 895.6,824.4 896.4,827.2 897.3,828.7 898.1,827.2 899.0,827.4 899.8,825.9 900.7,828.1 901.5,828.1 902.4,827.8 903.2,827.2 904.1,828.9 904.9,828.2 905.7,828.8 906.6,829.8 907.4,829.7 908.3,829.9 909.1,831.0 910.0,829.4 910.8,831.8 911.7,829.9 912.5,830.3 913.4,831.3 914.2,832.1 915.1,831.8 915.9,831.5 916.8,831.4 917.6,832.0 918.5,831.6 919.3,833.1 920.1,832.6 921.0,834.3 921.8,832.6 922.7,833.2 923.5,833.9 924.4,832.8 925.2,833.3 926.1,836.3 926.9,834.2 927.8,835.5 928.6,833.7 929.5,832.7 930.3,835.3 931.2,834.9 932.0,835.4 932.9,835.0 933.7,835.0 934.5,834.6 935.4,836.5 936.2,834.7 937.1,836.7 937.9,835.9 938.8,835.4 939.6,835.9 940.5,837.3 941.3,837.2 942.2,837.1 943.0,837.0 943.9,836.2 944.7,838.1 945.6,836.9 946.4,836.9 947.3,837.1 948.1,837.3 948.9,836.6 949.8,837.5 950.6,837.3 951.5,837.6 952.3,836.8 953.2,839.6 954.0,837.4 954.9,838.6 955.7,838.7 956.6,839.3 957.4,840.1 958.3,839.1 959.1,839.4 960.0,838.6 960.8,840.1 961.7,838.1 962.5,839.0 963.4,839.5 964.2,839.9 965.0,840.0 965.9,840.3 966.7,840.0 967.6,839.6 968.4,839.8 969.3,840.8 970.1,840.0 971.0,840.6 971.8,839.9 972.7,838.7 973.5,839.7 974.4,840.4 975.2,841.4 976.1,841.3 976.9,841.6 977.8,839.9 978.6,841.0 979.4,840.5 980.3,841.0 981.1,840.6 982.0,839.7 982.8,841.2 983.7,841.0 984.5,841.4 985.4,840.2 986.2,841.6 987.1,841.8 987.9,842.0 988.8,842.0 989.6,840.8 990.5,839.3 991.3,841.9 992.2,840.6 993.0,841.1 993.8,842.1 994.7,841.6 995.5,841.6 996.4,841.9 997.2,840.1 998.1,842.9 998.9,841.3 999.8,841.4 1000.6,842.1 1001.5,841.6 1002.3,841.1 1003.2,841.7 1004.0,841.5 1004.9,841.3 1005.7,843.3 1006.6,840.9 1007.4,840.3 1008.3,841.3 1009.1,841.3 1009.9,843.0 1010.8,842.1 1011.6,842.7 1012.5,842.5 1013.3,841.5 1014.2,842.7 1015.0,842.3 1015.9,843.6 1016.7,842.4 1017.6,842.2 1018.4,842.8 1019.3,842.9 1020.1,841.1 1021.0,843.2 1021.8,843.2 1022.7,843.0 1023.5,841.7 1024.3,841.1 1025.2,842.3 1026.0,843.1 1026.9,842.9 1027.7,841.9 1028.6,843.3 1029.4,841.7 1030.3,841.7 1031.1,842.7 1032.0,842.3 1032.8,842.2 1033.7,841.7 1034.5,843.5 1035.4,842.0 1036.2,843.1 1037.1,843.4 1037.9,842.8 1038.7,843.0 1039.6,843.6 1040.4,844.0 1041.3,843.6 1042.1,842.0 1043.0,841.7 1043.8,842.6 1044.7,842.2 1045.5,843.4 1046.4,843.1 1047.2,842.9 1048.1,843.9 1048.9,843.8 1049.8,843.1 1050.6,843.4 1051.5,843.9 1052.3,842.9 1053.2,843.4 1054.0,842.5 1054.8,843.3 1055.7,843.5 1056.5,843.2 1057.4,843.4 1058.2,843.8 1059.1,843.6 1059.9,842.8 1060.8,842.9 1061.6,842.5 1062.5,844.5 1063.3,843.6 1064.2,843.7 1065.0,843.3 1065.9,843.7 1066.7,843.7 1067.6,842.9 1068.4,843.3 1069.2,844.2 1070.1,842.5 1070.9,842.8 1071.8,843.8 1072.6,842.9 1073.5,843.9 1074.3,842.7 1075.2,843.6 1076.0,844.0 1076.9,843.7 1077.7,844.0 1078.6,843.4 1079.4,843.4 1080.3,843.5 1081.1,843.9 1082.0,844.7 1082.8,843.5 1083.6,844.7 1084.5,843.4 1085.3,842.8 1086.2,843.4 1087.0,843.8 1087.9,843.7 1088.7,843.7 1089.6,843.9 1090.4,844.0 1091.3,844.2 1092.1,842.8 1093.0,843.6 1093.8,843.0 1094.7,843.8 1095.5,843.6 1096.4,843.7 1097.2,843.3 1098.1,843.1 1098.9,843.5 1099.7,844.1 1100.6,844.2 1101.4,842.5 1102.3,843.9 1103.1,843.9 1104.0,842.7 1104.8,842.9 1105.7,843.3 1106.5,844.0 1107.4,842.1 1108.2,843.4 1109.1,843.3 1109.9,843.8 1110.8,844.7 1111.6,844.6 1112.5,843.5 1113.3,843.5 1114.1,843.9 1115.0,844.5 1115.8,844.7 1116.7,844.0 1117.5,844.7 1118.4,843.2 1119.2,843.0 1120.1,841.9 1120.9,843.2 1121.8,844.2 1122.6,844.4 1123.5,844.7 1124.3,844.2 1125.2,843.9 1126.0,843.2 1126.9,843.4 1127.7,843.4 1128.5,843.7 1129.4,843.4 1130.2,842.9 1131.1,844.6 1131.9,844.2 1132.8,844.7 1133.6,842.8 1134.5,843.0 1135.3,843.4 1136.2,844.7 1137.0,843.8 1137.9,844.1 1138.7,843.9 1139.6,844.0 1140.4,843.6 1141.3,844.2 1142.1,843.4 1143.0,843.8 1143.8,844.1 1144.6,844.0 1145.5,844.3 1146.3,843.4 1147.2,844.1 1148.0,843.8 1148.9,844.2 1149.7,844.7 1150.6,843.4 1151.4,844.7 1152.3,843.5 1153.1,843.7 1154.0,844.7 1154.8,844.6 1155.7,844.4 1156.5,844.6 1157.4,844.7 1158.2,843.5" stroke="#F81010"/>
<path d="M141.6,844.2 142.4,843.8 143.3,844.3 144.1,843.8 145.0,844.5 145.8,844.0 146.7,843.6 147.5,843.9 148.4,844.3 149.2,844.7 150.1,843.8 150.9,843.7 151.8,844.1 152.6,844.4 153.5,843.5 154.3,842.2 155.2,844.1 156.0,843.6 156.8,843.6 157.7,844.7 158.5,843.8 159.4,844.3 160.2,842.9 161.1,844.0 161.9,844.3 162.8,843.9 163.6,843.7 164.5,844.1 165.3,843.8 166.2,844.7 167.0,843.9 167.9,843.2 168.7,842.4 169.6,843.2 170.4,843.5 171.3,842.9 172.1,843.0 172.9,842.5 173.8,842.9 174.6,843.7 175.5,843.5 176.3,843.5 177.2,843.4 178.0,843.5 178.9,844.1 179.7,844.7 180.6,844.0 181.4,844.7 182.3,843.5 183.1,843.5 184.0,844.7 184.8,843.0 185.7,842.9 186.5,843.3 187.3,842.2 188.2,842.0 189.0,844.1 189.9,842.5 190.7,842.8 191.6,842.8 192.4,842.4 193.3,843.5 194.1,843.4 195.0,843.5 195.8,843.4 196.7,842.9 197.5,843.7 198.4,843.4 199.2,842.3 200.1,842.6 200.9,842.3 201.7,843.8 202.6,843.0 203.4,842.8 204.3,842.3 205.1,842.7 206.0,841.6 206.8,842.2 207.7,842.1 208.5,842.1 209.4,841.6 210.2,842.3 211.1,841.2 211.9,841.6 212.8,841.7 213.6,841.8 214.5,841.4 215.3,841.0 216.2,841.0 217.0,841.3 217.8,840.9 218.7,841.4 219.5,840.6 220.4,841.4 221.2,842.8 222.1,840.4 222.9,841.2 223.8,842.0 224.6,841.3 225.5,841.7 226.3,839.6 227.2,840.7 228.0,842.1 228.9,840.6 229.7,841.3 230.6,839.6 231.4,841.7 232.2,842.6 233.1,840.9 233.9,841.2 234.8,841.2 235.6,842.4 236.5,840.6 237.3,839.7 238.2,842.2 239.0,840.0 239.9,841.3 240.7,839.2 241.6,840.5 242.4,840.9 243.3,840.0 244.1,840.4 245.0,841.2 245.8,840.2 246.6,841.1 247.5,842.0 248.3,839.3 249.2,841.0 250.0,841.1 250.9,840.4 251.7,841.8 252.6,841.6 253.4,841.0 254.3,841.0 255.1,840.6 256.0,839.8 256.8,840.9 257.7,840.2 258.5,840.1 259.4,841.3 260.2,840.4 261.1,841.2 261.9,839.7 262.7,840.2 263.6,840.5 264.4,841.4 265.3,840.4 266.1,841.0 267.0,839.9 267.8,840.5 268.7,841.0 269.5,839.7 270.4,839.9 271.2,840.8 272.1,839.5 272.9,840.5 273.8,840.5 274.6,840.2 275.5,840.8 276.3,840.6 277.1,840.4 278.0,839.2 278.8,839.2 279.7,840.4 280.5,839.1 281.4,840.2 282.2,839.9 283.1,839.5 283.9,839.9 284.8,838.4 285.6,840.0 286.5,841.0 287.3,839.2 288.2,840.4 289.0,840.3 289.9,842.2 290.7,839.3 291.5,839.4 292.4,839.4 293.2,839.3 294.1,838.8 294.9,840.0 295.8,839.3 296.6,840.5 297.5,840.2 298.3,839.2 299.2,839.6 300.0,840.9 300.9,839.6 301.7,840.0 302.6,840.5 303.4,839.5 304.3,840.1 305.1,841.0 306.0,840.6 306.8,838.5 307.6,840.9 308.5,839.6 309.3,839.3 310.2,839.3 311.0,840.6 311.9,840.0 312.7,839.6 313.6,839.1 314.4,840.2 315.3,840.5 316.1,838.9 317.0,838.9 317.8,839.4 318.7,840.1 319.5,839.3 320.4,839.5 321.2,839.0 322.0,840.5 322.9,839.5 323.7,839.7 324.6,840.4 325.4,839.4 326.3,839.5 327.1,839.8 328.0,839.2 328.8,840.6 329.7,839.6 330.5,839.2 331.4,839.3 332.2,838.7 333.1,840.4 333.9,840.6 334.8,839.3 335.6,839.1 336.4,837.9 337.3,839.0 338.1,840.1 339.0,838.8 339.8,840.0 340.7,840.5 341.5,837.5 342.4,839.1 343.2,838.8 344.1,838.9 344.9,838.0 345.8,839.1 346.6,838.4 347.5,840.1 348.3,840.3 349.2,838.2 350.0,838.2 350.9,838.9 351.7,839.1 352.5,839.1 353.4,839.7 354.2,838.1 355.1,838.7 355.9,838.8 356.8,838.9 357.6,838.4 358.5,838.8 359.3,838.6 360.2,840.0 361.0,838.8 361.9,837.5 362.7,839.5 363.6,839.2 364.4,838.5 365.3,838.4 366.1,838.6 366.9,840.3 367.8,838.7 368.6,839.9 369.5,839.7 370.3,838.6 371.2,839.2 372.0,838.4 372.9,836.7 373.7,838.4 374.6,838.5 375.4,839.6 376.3,839.4 377.1,839.7 378.0,839.3 378.8,839.7 379.7,839.4 380.5,839.1 381.3,839.6 382.2,839.9 383.0,839.9 383.9,838.5 384.7,838.8 385.6,838.1 386.4,838.1 387.3,839.1 388.1,838.3 389.0,839.9 389.8,837.1 390.7,837.9 391.5,838.9 392.4,839.6 393.2,838.5 394.1,840.1 394.9,839.3 395.8,838.2 396.6,838.7 397.4,839.1 398.3,838.0 399.1,839.5 400.0,838.5 400.8,839.0 401.7,839.3 402.5,838.3 403.4,839.4 404.2,837.2 405.1,839.0 405.9,837.1 406.8,839.4 407.6,838.1 408.5,839.5 409.3,839.5 410.2,838.4 411.0,838.0 411.8,839.5 412.7,837.6 413.5,839.1 414.4,838.4 415.2,838.2 416.1,838.0 416.9,839.8 417.8,837.2 418.6,838.0 419.5,838.7 420.3,839.2 421.2,839.6 422.0,839.4 422.9,838.0 423.7,838.6 424.6,839.2 425.4,838.7 426.2,837.1 427.1,838.5 427.9,838.7 428.8,837.3 429.6,837.9 430.5,838.2 431.3,838.7 432.2,839.4 433.0,839.1 433.9,838.6 434.7,838.3 435.6,837.9 436.4,837.7 437.3,838.0 438.1,838.0 439.0,838.9 439.8,839.7 440.6,838.5 441.5,838.8 442.3,838.6 443.2,838.3 444.0,839.0 444.9,838.9 445.7,838.1 446.6,837.9 447.4,838.5 448.3,837.6 449.1,838.1 450.0,838.7 450.8,837.9 451.7,836.5 452.5,838.4 453.4,837.0 454.2,836.8 455.1,836.7 455.9,838.5 456.7,836.3 457.6,837.7 458.4,838.0 459.3,838.0 460.1,837.3 461.0,837.7 461.8,837.9 462.7,836.8 463.5,838.2 464.4,838.5 465.2,837.1 466.1,837.1 466.9,836.8 467.8,838.4 468.6,836.8 469.5,837.2 470.3,836.2 471.1,838.5 472.0,837.4 472.8,837.7 473.7,838.7 474.5,838.0 475.4,836.6 476.2,837.8 477.1,837.9 477.9,836.7 478.8,836.6 479.6,836.6 480.5,837.9 481.3,837.3 482.2,836.4 483.0,837.6 483.9,837.7 484.7,836.4 485.5,835.8 486.4,837.8 487.2,838.9 488.1,837.9 488.9,837.5 489.8,836.8 490.6,836.2 491.5,836.7 492.3,837.1 493.2,836.4 494.0,837.2 494.9,836.4 495.7,836.8 496.6,834.2 497.4,835.5 498.3,836.7 499.1,836.8 500.0,836.3 500.8,837.1 501.6,836.3 502.5,836.3 503.3,834.9 504.2,835.8 505.0,836.0 505.9,836.4 506.7,836.1 507.6,835.2 508.4,835.2 509.3,834.0 510.1,835.3 511.0,833.8 511.8,834.3 512.7,834.3 513.5,835.8 514.4,835.0 515.2,833.3 516.0,832.5 516.9,833.3 517.7,832.6 518.6,833.3 519.4,833.1 520.3,833.0 521.1,831.4 522.0,831.6 522.8,831.7 523.7,831.5 524.5,830.4 525.4,830.3 526.2,830.8 527.1,828.2 527.9,829.0 528.8,828.7 529.6,826.8 530.4,826.6 531.3,826.9 532.1,825.6 533.0,826.2 533.8,825.0 534.7,825.5 535.5,821.3 536.4,823.1 537.2,819.5 538.1,819.7 538.9,818.5 539.8,816.2 540.6,814.2 541.5,812.2 542.3,809.2 543.2,808.7 544.0,806.1 544.9,805.5 545.7,801.8 546.5,800.0 547.4,798.1 548.2,795.0 549.1,792.1 549.9,788.8 550.8,785.4 551.6,783.2 552.5,780.0 553.3,774.5 554.2,773.9 555.0,768.6 555.9,761.8 556.7,763.8 557.6,756.9 558.4,750.7 559.3,749.8 560.1,738.9 560.9,742.3 561.8,731.3 562.6,726.3 563.5,722.4 564.3,719.2 565.2,713.1 566.0,710.0 566.9,701.7 567.7,699.7 568.6,692.8 569.4,684.9 570.3,683.2 571.1,676.1 572.0,669.5 572.8,666.6 573.7,656.0 574.5,651.8 575.3,649.7 576.2,640.7 577.0,636.2 577.9,630.0 578.7,622.4 579.6,618.1 580.4,608.6 581.3,606.3 582.1,596.6 583.0,593.1 583.8,585.2 584.7,582.6 585.5,576.8 586.4,572.7 587.2,563.0 588.1,556.6 588.9,548.2 589.8,544.8 590.6,541.9 591.4,537.8 592.3,531.1 593.1,526.9 594.0,518.1 594.8,514.4 595.7,513.9 596.5,508.7 597.4,498.6 598.2,496.6 599.1,493.3 599.9,485.0 600.8,484.6 601.6,479.9 602.5,476.0 603.3,475.8 604.2,463.9 605.0,465.4 605.8,459.6 606.7,456.0 607.5,448.0 608.4,446.4 609.2,442.4 610.1,443.4 610.9,435.3 611.8,435.7 612.6,427.2 613.5,423.6 614.3,421.4 615.2,412.3 616.0,413.5 616.9,410.2 617.7,408.6 618.6,406.7 619.4,400.5 620.2,397.3 621.1,401.6 621.9,392.0 622.8,391.1 623.6,387.3 624.5,386.4 625.3,389.1 626.2,386.7 627.0,375.6 627.9,378.2 628.7,381.1 629.6,373.9 630.4,374.1 631.3,376.6 632.1,376.1 633.0,372.2 633.8,364.7 634.7,363.8 635.5,362.5 636.3,359.0 637.2,356.2 638.0,362.5 638.9,355.1 639.7,354.8 640.6,354.0 641.4,349.9 642.3,346.6 643.1,345.1 644.0,346.8 644.8,341.8 645.7,332.1 646.5,339.8 647.4,340.0 648.2,332.2 649.1,329.6 649.9,328.5 650.7,332.1 651.6,324.2 652.4,328.7 653.3,328.8 654.1,326.3 655.0,324.0 655.8,320.8 656.7,320.6 657.5,322.2 658.4,318.8 659.2,321.2 660.1,318.4 660.9,325.5 661.8,325.8 662.6,318.3 663.5,325.0 664.3,321.5 665.1,320.9 666.0,322.1 666.8,322.0 667.7,316.2 668.5,328.7 669.4,318.1 670.2,313.8 671.1,321.3 671.9,321.7 672.8,319.8 673.6,316.8 674.5,327.0 675.3,323.6 676.2,325.3 677.0,323.9 677.9,326.1 678.7,325.7 679.6,330.3 680.4,330.2 681.2,333.9 682.1,335.4 682.9,335.4 683.8,337.2 684.6,342.2 685.5,335.7 686.3,343.0 687.2,349.0 688.0,343.6 688.9,351.6 689.7,350.2 690.6,354.3 691.4,356.0 692.3,358.9 693.1,363.8 694.0,364.7 694.8,361.5 695.6,377.3 696.5,373.2 697.3,375.1 698.2,382.6 699.0,386.6 699.9,379.2 700.7,389.8 701.6,385.7 702.4,393.5 703.3,398.0 704.1,400.1 705.0,402.9 705.8,404.6 706.7,410.1 707.5,414.2 708.4,417.4 709.2,417.4 710.0,422.3 710.9,430.8 711.7,433.1 712.6,433.7 713.4,439.7 714.3,442.4 715.1,447.3 716.0,448.8 716.8,450.2 717.7,452.0 718.5,458.1 719.4,455.8 720.2,465.0 721.1,459.5 721.9,468.8 722.8,473.5 723.6,479.6 724.5,489.1 725.3,485.4 726.1,487.8 727.0,486.6 727.8,498.6 728.7,493.4 729.5,502.3 730.4,503.2 731.2,514.9 732.1,511.3 732.9,515.9 733.8,516.6 734.6,521.4 735.5,527.8 736.3,525.9 737.2,529.9 738.0,533.4 738.9,535.7 739.7,538.8 740.5,544.8 741.4,551.3 742.2,554.7 743.1,551.4 743.9,556.2 744.8,560.9 745.6,565.4 746.5,567.6 747.3,570.9 748.2,574.9 749.0,579.0 749.9,575.7 750.7,583.3 751.6,588.4 752.4,593.2 753.3,595.0 754.1,595.0 754.9,598.1 755.8,603.4 756.6,605.9 757.5,609.8 758.3,614.6 759.2,612.5 760.0,617.6 760.9,616.2 761.7,626.1 762.6,627.8 763.4,628.7 764.3,634.0 765.1,639.3 766.0,641.3 766.8,642.1 767.7,644.5 768.5,648.2 769.4,648.8 770.2,651.7 771.0,655.8 771.9,659.1 772.7,662.4 773.6,663.6 774.4,665.5 775.3,669.8 776.1,671.7 777.0,675.8 777.8,680.3 778.7,682.1 779.5,681.3 780.4,684.4 781.2,684.8 782.1,690.0 782.9,690.9 783.8,692.4 784.6,695.3 785.4,700.4 786.3,702.0 787.1,703.6 788.0,707.7 788.8,707.4 789.7,708.6 790.5,713.2 791.4,711.2 792.2,717.0 793.1,718.8 793.9,720.9 794.8,723.6 795.6,723.6 796.5,726.2 797.3,725.4 798.2,728.9 799.0,730.8 799.8,733.8 800.7,737.3 801.5,737.0 802.4,739.8 803.2,738.7 804.1,741.8 804.9,740.8 805.8,743.8 806.6,745.2 807.5,747.6 808.3,749.1 809.2,749.9 810.0,751.0 810.9,754.8 811.7,754.4 812.6,752.7 813.4,757.9 814.3,759.5 815.1,761.4 815.9,763.7 816.8,761.2 817.6,764.0 818.5,764.9 819.3,764.0 820.2,764.2 821.0,770.0 821.9,768.4 822.7,770.1 823.6,771.5 824.4,772.4 825.3,774.1 826.1,773.0 827.0,775.3 827.8,776.6 828.7,776.4 829.5,777.8 830.3,779.3 831.2,780.4 832.0,779.5 832.9,782.0 833.7,783.6 834.6,785.4 835.4,785.6 836.3,787.3 837.1,786.7 838.0,787.3 838.8,790.9 839.7,789.2 840.5,789.2 841.4,790.5 842.2,792.6 843.1,790.7 843.9,793.7 844.7,795.1 845.6,795.6 846.4,795.0 847.3,794.6 848.1,795.0 849.0,796.8 849.8,799.0 850.7,799.1 851.5,800.0 852.4,799.8 853.2,802.2 854.1,800.7 854.9,800.7 855.8,802.2 856.6,802.1 857.5,804.2 858.3,805.3 859.2,805.0 860.0,803.6 860.8,804.3 861.7,806.4 862.5,805.2 863.4,807.3 864.2,805.9 865.1,807.5 865.9,809.0 866.8,808.2 867.6,810.3 868.5,811.0 869.3,812.0 870.2,810.7 871.0,811.5 871.9,812.0 872.7,812.8 873.6,811.4 874.4,813.7 875.2,814.5 876.1,812.9 876.9,813.2 877.8,814.7 878.6,817.2 879.5,816.5 880.3,815.7 881.2,816.7 882.0,815.6 882.9,818.8 883.7,817.3 884.6,818.9 885.4,817.4 886.3,819.1 887.1,818.5 888.0,820.4 888.8,821.5 889.6,821.6 890.5,821.5 891.3,822.2 892.2,820.5 893.0,820.7 893.9,822.0 894.7,823.6 895.6,823.1 896.4,823.9 897.3,822.3 898.1,823.6 899.0,823.8 899.8,824.9 900.7,826.7 901.5,825.9 902.4,826.5 903.2,825.4 904.1,826.0 904.9,827.1 905.7,827.0 906.6,825.5 907.4,828.0 908.3,828.3 909.1,827.9 910.0,828.6 910.8,828.6 911.7,828.1 912.5,827.3 913.4,830.5 914.2,829.3 915.1,829.5 915.9,829.8 916.8,830.1 917.6,830.5 918.5,829.6 919.3,831.1 920.1,831.0 921.0,831.1 921.8,831.2 922.7,831.7 923.5,830.9 924.4,832.0 925.2,832.0 926.1,832.4 926.9,833.4 927.8,833.5 928.6,833.8 929.5,833.0 930.3,833.9 931.2,834.4 932.0,833.5 932.9,833.5 933.7,835.5 934.5,832.9 935.4,834.4 936.2,834.7 937.1,833.9 937.9,834.9 938.8,835.5 939.6,833.5 940.5,836.2 941.3,835.6 942.2,835.0 943.0,836.7 943.9,836.1 944.7,835.8 945.6,834.4 946.4,837.1 947.3,836.6 948.1,836.1 948.9,836.7 949.8,837.8 950.6,836.7 951.5,837.1 952.3,836.9 953.2,836.5 954.0,836.7 954.9,837.3 955.7,837.5 956.6,838.7 957.4,838.0 958.3,837.9 959.1,838.4 960.0,838.2 960.8,839.0 961.7,837.3 962.5,836.9 963.4,838.9 964.2,838.4 965.0,839.0 965.9,838.0 966.7,838.7 967.6,839.0 968.4,839.3 969.3,839.1 970.1,840.0 971.0,838.9 971.8,840.0 972.7,839.1 973.5,839.5 974.4,838.9 975.2,839.8 976.1,839.1 976.9,840.5 977.8,839.5 978.6,840.2 979.4,839.9 980.3,840.1 981.1,839.5 982.0,841.7 982.8,840.1 983.7,841.4 984.5,839.5 985.4,841.9 986.2,841.2 987.1,841.8 987.9,839.4 988.8,841.6 989.6,840.6 990.5,841.2 991.3,842.1 992.2,841.1 993.0,840.5 993.8,841.1 994.7,840.4 995.5,841.4 996.4,841.1 997.2,841.5 998.1,841.0 998.9,839.9 999.8,841.1 1000.6,841.2 1001.5,841.9 1002.3,842.0 1003.2,840.5 1004.0,842.3 1004.9,842.2 1005.7,841.7 1006.6,842.0 1007.4,840.3 1008.3,843.4 1009.1,841.5 1009.9,841.3 1010.8,842.6 1011.6,842.4 1012.5,841.6 1013.3,840.8 1014.2,842.6 1015.0,843.1 1015.9,841.4 1016.7,841.0 1017.6,842.4 1018.4,843.7 1019.3,841.2 1020.1,842.4 1021.0,841.5 1021.8,842.3 1022.7,842.6 1023.5,842.7 1024.3,841.4 1025.2,841.4 1026.0,843.9 1026.9,843.1 1027.7,841.3 1028.6,842.8 1029.4,843.5 1030.3,842.6 1031.1,842.7 1032.0,842.7 1032.8,843.0 1033.7,842.9 1034.5,843.0 1035.4,842.5 1036.2,843.3 1037.1,843.0 1037.9,842.9 1038.7,841.9 1039.6,842.6 1040.4,843.0 1041.3,842.5 1042.1,842.6 1043.0,842.2 1043.8,842.6 1044.7,841.8 1045.5,842.1 1046.4,843.1 1047.2,843.3 1048.1,842.5 1048.9,842.7 1049.8,843.2 1050.6,844.1 1051.5,844.4 1052.3,842.9 1053.2,842.7 1054.0,842.7 1054.8,844.1 1055.7,842.6 1056.5,843.6 1057.4,843.0 1058.2,843.0 1059.1,843.9 1059.9,843.7 1060.8,844.7 1061.6,844.0 1062.5,844.6 1063.3,843.1 1064.2,843.3 1065.0,842.7 1065.9,843.1 1066.7,843.8 1067.6,843.2 1068.4,843.7 1069.2,843.0 1070.1,843.2 1070.9,844.1 1071.8,843.4 1072.6,843.4 1073.5,843.7 1074.3,842.8 1075.2,842.3 1076.0,843.7 1076.9,843.7 1077.7,844.7 1078.6,843.6 1079.4,843.8 1080.3,844.7 1081.1,843.3 1082.0,843.1 1082.8,844.0 1083.6,843.8 1084.5,844.2 1085.3,843.0 1086.2,844.6 1087.0,843.8 1087.9,842.2 1088.7,843.5 1089.6,843.3 1090.4,843.7 1091.3,844.4 1092.1,843.6 1093.0,843.3 1093.8,844.3 1094.7,843.4 1095.5,842.8 1096.4,842.9 1097.2,844.7 1098.1,844.3 1098.9,844.7 1099.7,842.9 1100.6,843.2 1101.4,843.2 1102.3,844.3 1103.1,844.5 1104.0,843.6 1104.8,843.6 1105.7,844.3 1106.5,843.6 1107.4,843.3 1108.2,843.6 1109.1,844.4 1109.9,844.7 1110.8,843.9 1111.6,843.6 1112.5,843.9 1113.3,844.0 1114.1,844.2 1115.0,843.3 1115.8,843.8 1116.7,843.7 1117.5,844.4 1118.4,844.2 1119.2,843.7 1120.1,844.5 1120.9,844.6 1121.8,844.0 1122.6,843.0 1123.5,843.7 1124.3,842.8 1125.2,843.9 1126.0,844.0 1126.9,844.7 1127.7,844.2 1128.5,842.9 1129.4,843.6 1130.2,843.4 1131.1,843.4 1131.9,843.9 1132.8,844.0 1133.6,843.8 1134.5,843.4 1135.3,843.6 1136.2,843.6 1137.0,843.8 1137.9,844.4 1138.7,844.1 1139.6,844.5 1140.4,843.2 1141.3,844.7 1142.1,844.1 1143.0,842.3 1143.8,844.2 1144.6,844.7 1145.5,844.0 1146.3,843.1 1147.2,844.1 1148.0,843.6 1148.9,843.9 1149.7,844.2 1150.6,841.9 1151.4,843.9 1152.3,844.4 1153.1,844.3 1154.0,843.8 1154.8,843.7 1155.7,843.5 1156.5,843.9 1157.4,844.7 1158.2,843.7" stroke="#EB6900"/>
<path d="M141.6,844.1 142.4,844.1 143.3,844.7 144.1,844.2 145.0,844.3 145.8,843.8 146.7,844.7 147.5,843.8 148.4,843.7 149.2,844.5 150.1,844.2 150.9,844.3 151.8,843.1 152.6,844.7 153.5,844.0 154.3,844.7 155.2,844.0 156.0,843.1 156.8,844.1 157.7,843.6 158.5,844.2 159.4,842.4 160.2,843.0 161.1,842.9 161.9,844.5 162.8,844.4 163.6,842.9 164.5,843.7 165.3,843.8 166.2,843.4 167.0,844.4 167.9,843.0 168.7,843.5 169.6,843.2 170.4,844.0 171.3,843.2 172.1,844.0 172.9,842.9 173.8,842.7 174.6,842.9 175.5,843.1 176.3,843.0 177.2,844.7 178.0,842.9 178.9,843.6 179.7,843.4 180.6,843.6 181.4,844.4 182.3,843.8 183.1,842.9 184.0,842.4 184.8,843.8 185.7,843.9 186.5,842.2 187.3,843.8 188.2,841.7 189.0,843.0 189.9,843.6 190.7,842.3 191.6,841.8 192.4,843.9 193.3,841.8 194.1,843.0 195.0,841.7 195.8,842.9 196.7,843.7 197.5,842.2 198.4,841.9 199.2,841.0 200.1,841.2 200.9,841.9 201.7,842.5 202.6,842.6 203.4,842.4 204.3,842.8 205.1,842.3 206.0,843.9 206.8,841.9 207.7,842.0 208.5,840.1 209.4,841.4 210.2,842.2 211.1,841.4 211.9,842.6 212.8,842.1 213.6,843.0 214.5,840.6 215.3,841.1 216.2,842.3 217.0,841.5 217.8,840.7 218.7,841.0 219.5,841.0 220.4,841.8 221.2,841.6 222.1,841.1 222.9,840.4 223.8,841.6 224.6,841.8 225.5,840.1 226.3,841.6 227.2,840.1 228.0,840.7 228.9,840.2 229.7,839.6 230.6,840.3 231.4,840.3 232.2,841.5 233.1,841.3 233.9,840.3 234.8,839.7 235.6,839.8 236.5,839.1 237.3,840.5 238.2,840.6 239.0,840.0 239.9,840.7 240.7,840.7 241.6,841.4 242.4,839.9 243.3,841.4 244.1,840.2 245.0,841.6 245.8,839.8 246.6,841.3 247.5,840.0 248.3,841.7 249.2,840.9 250.0,839.7 250.9,841.1 251.7,840.4 252.6,840.8 253.4,842.1 254.3,840.2 255.1,840.1 256.0,841.2 256.8,840.0 257.7,841.0 258.5,841.1 259.4,840.4 260.2,840.9 261.1,838.7 261.9,841.5 262.7,839.8 263.6,839.6 264.4,841.7 265.3,841.5 266.1,839.9 267.0,840.6 267.8,840.0 268.7,839.4 269.5,840.5 270.4,841.0 271.2,842.2 272.1,840.0 272.9,840.8 273.8,839.9 274.6,840.0 275.5,841.1 276.3,838.9 277.1,839.3 278.0,839.5 278.8,840.9 279.7,840.4 280.5,840.4 281.4,840.3 282.2,840.8 283.1,839.7 283.9,839.8 284.8,839.7 285.6,840.3 286.5,839.0 287.3,839.8 288.2,841.9 289.0,840.4 289.9,839.9 290.7,839.2 291.5,840.1 292.4,840.0 293.2,840.3 294.1,839.4 294.9,840.1 295.8,840.2 296.6,840.3 297.5,839.4 298.3,840.2 299.2,841.0 300.0,839.3 300.9,840.2 301.7,839.5 302.6,839.4 303.4,838.8 304.3,838.9 305.1,840.1 306.0,839.8 306.8,840.6 307.6,838.4 308.5,839.3 309.3,838.6 310.2,839.8 311.0,841.1 311.9,838.4 312.7,839.5 313.6,839.4 314.4,839.5 315.3,839.1 316.1,839.1 317.0,840.7 317.8,838.7 318.7,839.9 319.5,839.8 320.4,838.2 321.2,838.8 322.0,839.7 322.9,840.8 323.7,839.3 324.6,839.0 325.4,839.5 326.3,840.3 327.1,840.0 328.0,840.3 328.8,839.2 329.7,838.8 330.5,838.6 331.4,839.9 332.2,839.2 333.1,838.9 333.9,839.7 334.8,839.4 335.6,837.7 336.4,839.1 337.3,838.6 338.1,839.6 339.0,839.2 339.8,840.5 340.7,839.2 341.5,838.3 342.4,837.7 343.2,838.3 344.1,838.7 344.9,839.1 345.8,839.6 346.6,839.3 347.5,838.7 348.3,839.7 349.2,838.4 350.0,839.8 350.9,840.4 351.7,839.8 352.5,840.3 353.4,840.1 354.2,838.2 355.1,839.2 355.9,838.9 356.8,838.2 357.6,838.1 358.5,839.4 359.3,838.0 360.2,838.7 361.0,839.0 361.9,838.6 362.7,840.0 363.6,839.5 364.4,839.0 365.3,838.5 366.1,839.2 366.9,839.0 367.8,838.2 368.6,837.9 369.5,838.3 370.3,837.9 371.2,839.2 372.0,839.1 372.9,838.6 373.7,839.1 374.6,839.2 375.4,837.6 376.3,839.0 377.1,839.5 378.0,838.4 378.8,837.4 379.7,838.7 380.5,837.8 381.3,839.1 382.2,839.1 383.0,839.2 383.9,838.8 384.7,837.3 385.6,839.6 386.4,837.5 387.3,839.4 388.1,838.8 389.0,838.0 389.8,838.2 390.7,838.4 391.5,839.8 392.4,838.3 393.2,839.4 394.1,836.7 394.9,838.7 395.8,838.4 396.6,839.4 397.4,838.9 398.3,839.5 399.1,837.8 400.0,838.7 400.8,838.1 401.7,839.0 402.5,838.9 403.4,837.5 404.2,839.2 405.1,839.8 405.9,838.1 406.8,839.3 407.6,838.7 408.5,837.7 409.3,839.0 410.2,837.7 411.0,838.9 411.8,837.2 412.7,837.4 413.5,838.7 414.4,838.5 415.2,838.9 416.1,838.1 416.9,837.4 417.8,839.3 418.6,837.6 419.5,839.2 420.3,838.9 421.2,839.6 422.0,836.6 422.9,838.1 423.7,838.0 424.6,838.7 425.4,837.4 426.2,839.7 427.1,838.1 427.9,836.5 428.8,838.4 429.6,838.1 430.5,837.6 431.3,838.7 432.2,838.0 433.0,837.3 433.9,837.9 434.7,837.7 435.6,838.3 436.4,837.8 437.3,837.9 438.1,836.9 439.0,837.4 439.8,838.1 440.6,839.8 441.5,837.4 442.3,837.3 443.2,838.6 444.0,839.4 444.9,838.7 445.7,837.2 446.6,838.6 447.4,838.2 448.3,837.6 449.1,836.9 450.0,837.8 450.8,837.8 451.7,838.2 452.5,836.5 453.4,836.9 454.2,837.8 455.1,838.7 455.9,838.3 456.7,837.2 457.6,838.2 458.4,837.0 459.3,837.3 460.1,837.4 461.0,837.1 461.8,837.2 462.7,838.2 463.5,837.8 464.4,835.8 465.2,838.4 466.1,837.8 466.9,836.7 467.8,837.6 468.6,838.0 469.5,838.4 470.3,837.0 471.1,836.6 472.0,836.3 472.8,837.3 473.7,836.5 474.5,838.1 475.4,837.1 476.2,837.8 477.1,837.1 477.9,836.6 478.8,836.4 479.6,837.9 480.5,836.2 481.3,837.4 482.2,837.8 483.0,837.1 483.9,838.0 484.7,836.9 485.5,836.6 486.4,836.9 487.2,836.3 488.1,836.9 488.9,836.6 489.8,837.7 490.6,836.5 491.5,837.1 492.3,836.7 493.2,836.4 494.0,836.1 494.9,837.4 495.7,837.3 496.6,836.3 497.4,835.6 498.3,835.6 499.1,835.1 500.0,834.7 500.8,835.3 501.6,835.6 502.5,836.3 503.3,836.2 504.2,835.7 505.0,835.0 505.9,835.0 506.7,835.0 507.6,835.0 508.4,834.3 509.3,834.5 510.1,834.3 511.0,834.2 511.8,834.7 512.7,835.0 513.5,833.6 514.4,833.5 515.2,833.8 516.0,833.8 516.9,831.4 517.7,833.6 518.6,833.0 519.4,832.3 520.3,833.2 521.1,831.9 522.0,830.2 522.8,830.5 523.7,830.5 524.5,830.1 525.4,830.2 526.2,829.0 527.1,829.5 527.9,829.3 528.8,828.3 529.6,827.0 530.4,826.9 531.3,825.9 532.1,827.5 533.0,823.8 533.8,821.9 534.7,821.8 535.5,822.3 536.4,821.7 537.2,819.4 538.1,819.4 538.9,816.3 539.8,816.1 540.6,813.0 541.5,810.9 542.3,812.5 543.2,808.2 544.0,807.1 544.9,805.7 545.7,802.6 546.5,799.7 547.4,795.6 548.2,795.8 549.1,789.9 549.9,785.7 550.8,784.2 551.6,780.9 552.5,778.0 553.3,775.9 554.2,769.8 555.0,766.0 555.9,761.7 556.7,755.1 557.6,753.6 558.4,749.9 559.3,743.8 560.1,743.7 560.9,738.9 561.8,733.0 562.6,728.7 563.5,721.6 564.3,718.2 565.2,709.6 566.0,704.8 566.9,700.7 567.7,697.4 568.6,690.1 569.4,684.2 570.3,682.1 571.1,673.9 572.0,667.5 572.8,662.7 573.7,654.3 574.5,649.2 575.3,647.5 576.2,639.6 577.0,635.5 577.9,626.5 578.7,623.6 579.6,613.8 580.4,608.9 581.3,601.7 582.1,598.2 583.0,595.3 583.8,582.1 584.7,580.7 585.5,571.4 586.4,567.9 587.2,561.7 588.1,553.4 588.9,551.4 589.8,543.4 590.6,545.0 591.4,533.9 592.3,531.4 593.1,526.0 594.0,520.5 594.8,514.6 595.7,506.3 596.5,510.4 597.4,500.7 598.2,497.9 599.1,488.3 599.9,487.9 600.8,481.0 601.6,478.8 602.5,471.6 603.3,466.3 604.2,465.9 605.0,460.5 605.8,460.4 606.7,451.7 607.5,446.2 608.4,446.2 609.2,437.8 610.1,443.0 610.9,438.7 611.8,433.9 612.6,427.9 613.5,423.0 614.3,420.0 615.2,416.7 616.0,411.3 616.9,411.7 617.7,411.0 618.6,408.1 619.4,395.5 620.2,405.7 621.1,396.6 621.9,389.1 622.8,389.4 623.6,390.9 624.5,386.0 625.3,381.1 626.2,377.9 627.0,382.0 627.9,374.9 628.7,374.4 629.6,369.8 630.4,367.0 631.3,370.3 632.1,371.8 633.0,364.3 633.8,358.3 634.7,359.7 635.5,359.2 636.3,350.7 637.2,359.4 638.0,351.5 638.9,354.1 639.7,350.2 640.6,348.1 641.4,341.7 642.3,347.2 643.1,344.0 644.0,345.3 644.8,336.9 645.7,337.9 646.5,333.3 647.4,336.1 648.2,332.2 649.1,326.2 649.9,328.5 650.7,324.7 651.6,323.7 652.4,325.4 653.3,328.2 654.1,319.3 655.0,321.2 655.8,318.0 656.7,326.9 657.5,325.3 658.4,326.5 659.2,322.2 660.1,315.9 660.9,317.2 661.8,319.0 662.6,318.3 663.5,316.3 664.3,319.6 665.1,317.3 666.0,318.1 666.8,325.5 667.7,319.8 668.5,314.4 669.4,320.1 670.2,319.5 671.1,321.3 671.9,321.2 672.8,316.6 673.6,321.5 674.5,324.5 675.3,331.8 676.2,324.6 677.0,329.9 677.9,330.4 678.7,323.3 679.6,324.8 680.4,334.4 681.2,327.2 682.1,329.9 682.9,335.5 683.8,332.5 684.6,341.7 685.5,342.4 686.3,345.2 687.2,346.3 688.0,342.4 688.9,351.6 689.7,353.4 690.6,355.3 691.4,354.3 692.3,358.6 693.1,357.6 694.0,365.2 694.8,369.7 695.6,370.2 696.5,371.6 697.3,377.4 698.2,376.8 699.0,375.3 699.9,385.6 700.7,386.9 701.6,386.2 702.4,395.3 703.3,399.1 704.1,403.1 705.0,402.0 705.8,404.9 706.7,410.1 707.5,412.9 708.4,412.7 709.2,417.2 710.0,427.0 710.9,426.4 711.7,429.5 712.6,431.1 713.4,437.1 714.3,441.7 715.1,444.5 716.0,451.5 716.8,450.0 717.7,455.0 718.5,455.4 719.4,462.9 720.2,464.6 721.1,469.5 721.9,473.1 722.8,471.7 723.6,478.2 724.5,479.1 725.3,486.6 726.1,486.8 727.0,494.9 727.8,495.0 728.7,498.4 729.5,499.0 730.4,503.4 731.2,507.6 732.1,508.4 732.9,513.4 733.8,515.8 734.6,518.6 735.5,524.0 736.3,527.9 737.2,529.7 738.0,534.8 738.9,536.2 739.7,537.7 740.5,541.7 741.4,548.0 742.2,553.4 743.1,553.8 743.9,557.2 744.8,557.6 745.6,564.4 746.5,567.2 747.3,568.3 748.2,574.4 749.0,576.9 749.9,575.8 750.7,579.6 751.6,584.7 752.4,588.8 753.3,594.7 754.1,594.5 754.9,598.8 755.8,601.6 756.6,606.4 757.5,608.4 758.3,611.9 759.2,613.9 760.0,614.6 760.9,620.0 761.7,627.3 762.6,628.8 763.4,633.1 764.3,634.4 765.1,634.6 766.0,637.9 766.8,642.8 767.7,644.0 768.5,648.9 769.4,653.0 770.2,655.8 771.0,657.5 771.9,655.8 772.7,663.9 773.6,661.7 774.4,664.2 775.3,669.7 776.1,672.1 777.0,675.8 777.8,677.2 778.7,678.5 779.5,682.2 780.4,682.9 781.2,685.0 782.1,689.0 782.9,691.4 783.8,694.4 784.6,696.0 785.4,700.9 786.3,700.5 787.1,703.1 788.0,707.1 788.8,704.1 789.7,711.6 790.5,713.5 791.4,713.6 792.2,719.3 793.1,719.4 793.9,722.6 794.8,723.6 795.6,724.2 796.5,725.3 797.3,725.9 798.2,728.2 799.0,729.5 799.8,732.2 800.7,735.6 801.5,734.8 802.4,739.0 803.2,740.8 804.1,739.2 804.9,741.9 805.8,744.3 806.6,745.1 807.5,746.4 808.3,751.2 809.2,750.8 810.0,753.8 810.9,753.3 811.7,755.8 812.6,754.3 813.4,756.8 814.3,760.0 815.1,760.2 815.9,763.1 816.8,762.6 817.6,763.1 818.5,764.7 819.3,768.9 820.2,767.9 821.0,767.9 821.9,769.3 822.7,769.2 823.6,773.5 824.4,772.2 825.3,774.8 826.1,774.7 827.0,775.4 827.8,776.0 828.7,778.6 829.5,778.6 830.3,781.2 831.2,782.4 832.0,780.9 832.9,782.5 833.7,785.3 834.6,785.2 835.4,785.0 836.3,783.9 837.1,785.4 838.0,786.5 838.8,790.4 839.7,789.2 840.5,789.2 841.4,790.1 842.2,790.8 843.1,792.3 843.9,790.7 844.7,791.7 845.6,794.3 846.4,796.0 847.3,793.2 848.1,796.8 849.0,795.5 849.8,795.4 850.7,799.2 851.5,798.5 852.4,799.8 853.2,799.5 854.1,800.3 854.9,799.1 855.8,801.2 856.6,802.4 857.5,801.8 858.3,803.9 859.2,804.5 860.0,802.3 860.8,806.1 861.7,806.3 862.5,806.3 863.4,808.0 864.2,809.6 865.1,806.8 865.9,809.2 866.8,809.5 867.6,809.8 868.5,810.9 869.3,811.5 870.2,810.7 871.0,808.9 871.9,811.0 872.7,811.5 873.6,814.2 874.4,813.2 875.2,814.8 876.1,813.3 876.9,814.7 877.8,814.9 878.6,815.4 879.5,816.3 880.3,817.6 881.2,816.0 882.0,818.3 882.9,818.5 883.7,818.1 884.6,818.8 885.4,818.3 886.3,818.0 887.1,819.1 888.0,819.5 888.8,820.0 889.6,819.6 890.5,822.5 891.3,820.8 892.2,822.3 893.0,823.0 893.9,822.1 894.7,822.8 895.6,822.3 896.4,822.1 897.3,825.6 898.1,823.9 899.0,822.3 899.8,823.6 900.7,823.4 901.5,824.9 902.4,826.6 903.2,826.6 904.1,825.3 904.9,825.4 905.7,827.1 906.6,827.0 907.4,826.8 908.3,828.8 909.1,827.9 910.0,826.5 910.8,826.2 911.7,828.5 912.5,827.1 913.4,829.3 914.2,829.8 915.1,831.3 915.9,828.8 916.8,830.1 917.6,828.1 918.5,830.0 919.3,830.4 920.1,832.2 921.0,829.7 921.8,831.5 922.7,831.5 923.5,833.4 924.4,831.1 925.2,831.2 926.1,832.7 926.9,832.4 927.8,832.3 928.6,832.0 929.5,832.9 930.3,831.8 931.2,833.6 932.0,834.1 932.9,834.1 933.7,836.0 934.5,834.7 935.4,833.5 936.2,834.2 937.1,835.3 937.9,834.5 938.8,836.5 939.6,835.3 940.5,834.8 941.3,834.8 942.2,836.1 943.0,835.0 943.9,834.4 944.7,836.3 945.6,835.5 946.4,837.4 947.3,837.9 948.1,836.0 948.9,836.6 949.8,836.6 950.6,837.3 951.5,837.2 952.3,836.5 953.2,835.9 954.0,837.5 954.9,838.7 955.7,836.6 956.6,837.2 957.4,837.3 958.3,837.8 959.1,836.3 960.0,838.0 960.8,837.8 961.7,839.7 962.5,838.8 963.4,839.0 964.2,838.6 965.0,838.4 965.9,839.3 966.7,837.6 967.6,839.7 968.4,839.3 969.3,838.9 970.1,840.1 971.0,838.8 971.8,838.9 972.7,839.6 973.5,838.1 974.4,839.5 975.2,839.4 976.1,840.4 976.9,841.0 977.8,840.3 978.6,840.1 979.4,840.3 980.3,839.4 981.1,841.8 982.0,840.9 982.8,841.5 983.7,839.3 984.5,840.7 985.4,840.7 986.2,841.2 987.1,839.8 987.9,840.8 988.8,840.4 989.6,842.1 990.5,839.8 991.3,840.4 992.2,840.4 993.0,839.9 993.8,841.0 994.7,841.0 995.5,840.5 996.4,840.7 997.2,841.3 998.1,841.1 998.9,841.5 999.8,840.7 1000.6,840.6 1001.5,841.3 1002.3,840.0 1003.2,842.5 1004.0,841.6 1004.9,840.3 1005.7,841.8 1006.6,842.7 1007.4,840.6 1008.3,841.3 1009.1,842.5 1009.9,841.2 1010.8,842.5 1011.6,842.8 1012.5,842.0 1013.3,842.2 1014.2,842.7 1015.0,842.2 1015.9,842.7 1016.7,842.0 1017.6,842.1 1018.4,841.6 1019.3,842.5 1020.1,843.1 1021.0,843.1 1021.8,842.4 1022.7,841.2 1023.5,841.7 1024.3,842.8 1025.2,841.7 1026.0,843.2 1026.9,841.7 1027.7,842.7 1028.6,842.0 1029.4,842.1 1030.3,842.7 1031.1,842.3 1032.0,843.3 1032.8,842.7 1033.7,841.9 1034.5,839.9 1035.4,842.2 1036.2,842.7 1037.1,843.5 1037.9,842.1 1038.7,844.0 1039.6,843.4 1040.4,842.6 1041.3,843.7 1042.1,841.9 1043.0,842.2 1043.8,843.4 1044.7,843.4 1045.5,843.9 1046.4,844.0 1047.2,842.8 1048.1,842.7 1048.9,842.9 1049.8,843.0 1050.6,843.5 1051.5,842.9 1052.3,844.2 1053.2,843.2 1054.0,842.2 1054.8,842.4 1055.7,843.6 1056.5,843.5 1057.4,842.4 1058.2,842.1 1059.1,844.4 1059.9,843.6 1060.8,843.2 1061.6,842.5 1062.5,843.9 1063.3,842.9 1064.2,843.6 1065.0,841.8 1065.9,843.1 1066.7,843.5 1067.6,843.7 1068.4,842.7 1069.2,843.0 1070.1,844.2 1070.9,843.3 1071.8,844.4 1072.6,844.0 1073.5,844.4 1074.3,844.4 1075.2,844.0 1076.0,844.2 1076.9,843.1 1077.7,843.0 1078.6,843.7 1079.4,844.3 1080.3,843.0 1081.1,844.7 1082.0,844.7 1082.8,843.1 1083.6,843.1 1084.5,842.9 1085.3,843.7 1086.2,844.4 1087.0,843.9 1087.9,843.2 1088.7,844.1 1089.6,844.1 1090.4,844.6 1091.3,844.4 1092.1,843.0 1093.0,843.3 1093.8,844.4 1094.7,844.4 1095.5,844.0 1096.4,843.3 1097.2,844.5 1098.1,843.8 1098.9,844.7 1099.7,844.5 1100.6,843.4 1101.4,843.1 1102.3,844.5 1103.1,844.2 1104.0,843.2 1104.8,844.0 1105.7,844.1 1106.5,843.4 1107.4,843.6 1108.2,843.0 1109.1,843.2 1109.9,844.1 1110.8,843.8 1111.6,843.8 1112.5,844.7 1113.3,844.4 1114.1,843.1 1115.0,844.7 1115.8,843.1 1116.7,843.6 1117.5,843.9 1118.4,843.4 1119.2,843.5 1120.1,843.0 1120.9,844.1 1121.8,844.0 1122.6,844.0 1123.5,842.6 1124.3,843.2 1125.2,844.5 1126.0,844.1 1126.9,844.3 1127.7,843.9 1128.5,843.7 1129.4,842.3 1130.2,844.7 1131.1,843.2 1131.9,843.6 1132.8,844.4 1133.6,844.0 1134.5,844.2 1135.3,843.9 1136.2,843.2 1137.0,844.7 1137.9,843.0 1138.7,844.2 1139.6,842.9 1140.4,843.7 1141.3,843.1 1142.1,843.6 1143.0,843.2 1143.8,843.9 1144.6,844.5 1145.5,843.5 1146.3,843.5 1147.2,842.6 1148.0,844.7 1148.9,844.1 1149.7,843.3 1150.6,844.7 1151.4,844.2 1152.3,842.6 1153.1,843.1 1154.0,844.6 1154.8,843.1 1155.7,843.2 1156.5,843.5 1157.4,843.8 1158.2,843.9" stroke="#E3DC30"/>
<path d="M141.6,844.7 142.4,844.6 143.3,843.7 144.1,844.1 145.0,842.9 145.8,844.4 146.7,844.7 147.5,844.4 148.4,844.0 149.2,843.9 150.1,844.1 150.9,844.7 151.8,843.1 152.6,844.5 153.5,843.6 154.3,844.3 155.2,844.7 156.0,843.1 156.8,844.7 157.7,844.6 158.5,843.7 159.4,844.3 160.2,843.5 161.1,844.1 161.9,844.3 162.8,842.5 163.6,844.1 164.5,844.1 165.3,844.7 166.2,844.4 167.0,843.5 167.9,843.5 168.7,843.9 169.6,844.4 170.4,843.4 171.3,844.7 172.1,844.1 172.9,844.0 173.8,844.4 174.6,843.7 175.5,844.3 176.3,844.4 177.2,842.6 178.0,843.3 178.9,843.0 179.7,843.7 180.6,843.1 181.4,843.2 182.3,842.9 183.1,842.1 184.0,843.9 184.8,843.5 185.7,843.6 186.5,844.7 187.3,844.4 188.2,843.4 189.0,842.9 189.9,843.6 190.7,842.4 191.6,842.2 192.4,843.3 193.3,842.0 194.1,841.7 195.0,842.5 195.8,843.5 196.7,841.7 197.5,842.8 198.4,842.8 199.2,842.4 200.1,842.8 200.9,841.6 201.7,841.8 202.6,841.4 203.4,841.8 204.3,842.7 205.1,842.2 206.0,841.4 206.8,842.2 207.7,839.8 208.5,842.0 209.4,842.1 210.2,840.8 211.1,841.1 211.9,841.5 212.8,841.6 213.6,841.1 214.5,840.7 215.3,840.7 216.2,841.4 217.0,840.8 217.8,840.5 218.7,840.4 219.5,843.1 220.4,841.5 221.2,841.3 222.1,840.9 222.9,840.5 223.8,839.9 224.6,840.1 225.5,840.6 226.3,840.4 227.2,839.1 228.0,840.8 228.9,840.1 229.7,839.2 230.6,840.1 231.4,841.8 232.2,840.0 233.1,840.6 233.9,840.4 234.8,839.5 235.6,839.9 236.5,840.4 237.3,839.6 238.2,839.9 239.0,840.1 239.9,840.0 240.7,840.0 241.6,840.4 242.4,840.5 243.3,840.1 244.1,840.8 245.0,841.0 245.8,839.2 246.6,840.3 247.5,840.1 248.3,840.2 249.2,840.0 250.0,840.0 250.9,840.0 251.7,840.6 252.6,839.3 253.4,840.5 254.3,839.2 255.1,841.3 256.0,840.7 256.8,839.2 257.7,840.0 258.5,840.4 259.4,839.6 260.2,840.6 261.1,839.8 261.9,841.4 262.7,840.2 263.6,840.3 264.4,839.4 265.3,839.2 266.1,840.4 267.0,838.6 267.8,840.2 268.7,841.2 269.5,841.5 270.4,838.6 271.2,839.8 272.1,840.2 272.9,840.2 273.8,840.5 274.6,838.7 275.5,839.7 276.3,838.3 277.1,839.7 278.0,841.3 278.8,839.0 279.7,839.8 280.5,839.7 281.4,838.4 282.2,839.7 283.1,838.7 283.9,839.5 284.8,840.0 285.6,839.1 286.5,839.9 287.3,838.5 288.2,838.7 289.0,839.4 289.9,839.0 290.7,839.0 291.5,839.6 292.4,838.7 293.2,839.5 294.1,838.9 294.9,840.0 295.8,839.2 296.6,839.0 297.5,839.9 298.3,839.6 299.2,839.6 300.0,838.7 300.9,839.8 301.7,838.9 302.6,838.1 303.4,838.9 304.3,840.4 305.1,839.1 306.0,838.4 306.8,839.3 307.6,838.3 308.5,838.7 309.3,838.8 310.2,839.3 311.0,839.4 311.9,839.2 312.7,839.0 313.6,838.7 314.4,838.7 315.3,839.2 316.1,839.0 317.0,838.7 317.8,840.2 318.7,839.5 319.5,839.6 320.4,839.1 321.2,839.1 322.0,839.1 322.9,839.6 323.7,838.4 324.6,838.7 325.4,840.1 326.3,838.9 327.1,839.7 328.0,837.6 328.8,839.2 329.7,839.1 330.5,838.8 331.4,839.0 332.2,838.9 333.1,837.7 333.9,838.6 334.8,838.2 335.6,837.9 336.4,839.5 337.3,837.5 338.1,838.2 339.0,838.0 339.8,839.4 340.7,838.1 341.5,838.4 342.4,839.1 343.2,837.0 344.1,838.3 344.9,838.8 345.8,838.5 346.6,838.0 347.5,837.8 348.3,838.2 349.2,837.7 350.0,837.5 350.9,839.5 351.7,838.9 352.5,839.3 353.4,838.5 354.2,837.5 355.1,838.1 355.9,839.3 356.8,838.7 357.6,837.8 358.5,838.9 359.3,838.6 360.2,838.3 361.0,839.8 361.9,837.9 362.7,838.2 363.6,838.0 364.4,839.2 365.3,839.0 366.1,838.9 366.9,838.2 367.8,838.3 368.6,838.3 369.5,837.0 370.3,837.4 371.2,838.9 372.0,838.8 372.9,837.1 373.7,838.6 374.6,837.3 375.4,837.1 376.3,838.7 377.1,838.5 378.0,838.2 378.8,838.9 379.7,839.0 380.5,838.5 381.3,837.6 382.2,838.6 383.0,838.4 383.9,838.6 384.7,839.2 385.6,837.1 386.4,839.9 387.3,838.7 388.1,837.7 389.0,839.2 389.8,837.7 390.7,837.2 391.5,838.8 392.4,837.9 393.2,838.9 394.1,837.7 394.9,838.0 395.8,837.9 396.6,837.0 397.4,837.7 398.3,837.0 399.1,837.5 400.0,838.9 400.8,837.8 401.7,837.6 402.5,839.1 403.4,837.0 404.2,837.9 405.1,837.7 405.9,838.6 406.8,837.9 407.6,837.7 408.5,838.1 409.3,837.8 410.2,839.5 411.0,836.8 411.8,838.7 412.7,839.5 413.5,838.5 414.4,838.4 415.2,837.4 416.1,838.5 416.9,837.6 417.8,838.5 418.6,836.1 419.5,837.3 420.3,836.2 421.2,838.5 422.0,837.2 422.9,838.4 423.7,837.2 424.6,837.1 425.4,838.8 426.2,838.5 427.1,838.5 427.9,838.7 428.8,838.1 429.6,838.3 430.5,838.7 431.3,837.5 432.2,837.1 433.0,838.5 433.9,837.9 434.7,837.5 435.6,837.7 436.4,838.0 437.3,836.9 438.1,836.8 439.0,836.9 439.8,837.6 440.6,835.9 441.5,836.1 442.3,837.7 443.2,837.5 444.0,836.5 444.9,838.0 445.7,837.0 446.6,837.3 447.4,837.8 448.3,837.5 449.1,838.5 450.0,837.7 450.8,838.8 451.7,835.5 452.5,836.1 453.4,836.3 454.2,837.0 455.1,836.4 455.9,836.2 456.7,836.4 457.6,836.4 458.4,837.8 459.3,836.8 460.1,837.5 461.0,838.0 461.8,837.9 462.7,836.7 463.5,836.2 464.4,838.1 465.2,835.7 466.1,835.9 466.9,837.3 467.8,837.3 468.6,837.0 469.5,836.2 470.3,837.2 471.1,837.7 472.0,836.6 472.8,838.4 473.7,836.7 474.5,835.9 475.4,836.5 476.2,836.2 477.1,836.3 477.9,836.1 478.8,836.6 479.6,837.3 480.5,836.8 481.3,836.6 482.2,835.6 483.0,835.2 483.9,836.1 484.7,837.0 485.5,836.9 486.4,836.4 487.2,835.1 488.1,835.9 488.9,836.1 489.8,836.6 490.6,835.3 491.5,835.7 492.3,835.9 493.2,835.7 494.0,834.4 494.9,835.8 495.7,834.3 496.6,834.6 497.4,835.4 498.3,834.7 499.1,835.4 500.0,835.9 500.8,835.4 501.6,835.8 502.5,834.6 503.3,834.9 504.2,831.2 505.0,822.6 505.9,817.1 506.7,822.9 507.6,832.8 508.4,834.2 509.3,834.9 510.1,834.0 511.0,832.8 511.8,835.1 512.7,833.5 513.5,833.5 514.4,834.8 515.2,832.6 516.0,832.9 516.9,833.1 517.7,833.1 518.6,829.6 519.4,832.3 520.3,833.2 521.1,826.6 522.0,811.0 522.8,793.9 523.7,810.0 524.5,825.4 525.4,829.2 526.2,829.7 527.1,829.9 527.9,829.0 528.8,828.1 529.6,826.4 530.4,826.1 531.3,826.1 532.1,825.0 533.0,824.0 533.8,821.5 534.7,822.9 535.5,820.9 536.4,819.5 537.2,819.8 538.1,817.4 538.9,816.0 539.8,815.1 540.6,812.5 541.5,810.3 542.3,808.3 543.2,807.7 544.0,805.2 544.9,800.6 545.7,802.0 546.5,798.0 547.4,794.6 548.2,792.6 549.1,789.1 549.9,786.6 550.8,782.6 551.6,778.5 552.5,776.8 553.3,772.6 554.2,769.0 555.0,765.5 555.9,761.1 556.7,758.7 557.6,751.9 558.4,746.2 559.3,741.8 560.1,738.0 560.9,736.9 561.8,728.2 562.6,727.0 563.5,721.0 564.3,712.8 565.2,712.6 566.0,704.1 566.9,699.8 567.7,695.2 568.6,691.1 569.4,683.2 570.3,679.3 571.1,670.8 572.0,664.8 572.8,664.1 573.7,656.7 574.5,650.6 575.3,646.6 576.2,640.4 577.0,631.8 577.9,626.4 578.7,623.4 579.6,615.0 580.4,606.7 581.3,604.5 582.1,597.9 583.0,586.4 583.8,581.0 584.7,581.9 585.5,575.6 586.4,565.8 587.2,563.8 588.1,556.0 588.9,551.0 589.8,543.0 590.6,545.2 591.4,539.1 592.3,531.4 593.1,520.6 594.0,518.4 594.8,517.3 595.7,506.7 596.5,501.2 597.4,498.8 598.2,494.2 599.1,487.5 599.9,480.8 600.8,479.0 601.6,473.5 602.5,470.6 603.3,467.2 604.2,464.3 605.0,456.9 605.8,454.3 606.7,450.1 607.5,442.9 608.4,440.2 609.2,435.3 610.1,438.4 610.9,428.7 611.8,428.4 612.6,425.5 613.5,422.2 614.3,413.0 615.2,410.8 616.0,412.1 616.9,410.2 617.7,403.9 618.6,402.3 619.4,393.3 620.2,399.6 621.1,398.0 621.9,390.7 622.8,387.3 623.6,384.4 624.5,380.2 625.3,373.9 626.2,378.8 627.0,377.3 627.9,378.8 628.7,370.7 629.6,366.9 630.4,368.3 631.3,362.0 632.1,363.6 633.0,357.2 633.8,358.9 634.7,361.2 635.5,358.1 636.3,358.9 637.2,357.7 638.0,349.6 638.9,345.8 639.7,340.4 640.6,344.6 641.4,343.2 642.3,343.9 643.1,335.3 644.0,335.2 644.8,336.3 645.7,330.3 646.5,328.8 647.4,334.6 648.2,324.7 649.1,325.0 649.9,325.2 650.7,323.9 651.6,315.8 652.4,315.3 653.3,313.4 654.1,322.0 655.0,319.7 655.8,314.1 656.7,320.3 657.5,318.3 658.4,321.3 659.2,309.5 660.1,311.7 660.9,313.4 661.8,314.1 662.6,316.0 663.5,315.8 664.3,312.5 665.1,316.7 666.0,310.5 666.8,316.0 667.7,317.3 668.5,310.5 669.4,315.2 670.2,313.2 671.1,316.5 671.9,322.7 672.8,314.3 673.6,320.8 674.5,313.7 675.3,322.7 676.2,324.5 677.0,318.6 677.9,319.2 678.7,321.4 679.6,326.8 680.4,321.5 681.2,330.4 682.1,328.8 682.9,331.5 683.8,332.0 684.6,330.0 685.5,336.6 686.3,335.0 687.2,336.8 688.0,346.5 688.9,347.1 689.7,347.1 690.6,350.3 691.4,350.1 692.3,359.6 693.1,354.2 694.0,357.0 694.8,362.6 695.6,369.2 696.5,367.9 697.3,372.6 698.2,372.3 699.0,377.3 699.9,378.0 700.7,384.7 701.6,382.3 702.4,396.6 703.3,396.0 704.1,394.9 705.0,404.0 705.8,400.8 706.7,409.8 707.5,409.3 708.4,415.6 709.2,417.6 710.0,419.2 710.9,423.4 711.7,427.5 712.6,423.7 713.4,433.2 714.3,439.3 715.1,437.4 716.0,441.1 716.8,443.4 717.7,445.3 718.5,456.2 719.4,454.1 720.2,457.3 721.1,463.8 721.9,466.5 722.8,478.7 723.6,475.5 724.5,472.6 725.3,485.5 726.1,485.6 727.0,486.8 727.8,489.4 728.7,490.1 729.5,502.3 730.4,501.0 731.2,502.2 732.1,511.2 732.9,511.3 733.8,509.7 734.6,514.6 735.5,519.9 736.3,531.1 737.2,528.3 738.0,530.3 738.9,535.4 739.7,538.1 740.5,533.7 741.4,545.1 742.2,550.3 743.1,550.7 743.9,555.3 744.8,558.6 745.6,561.4 746.5,562.6 747.3,567.2 748.2,573.8 749.0,574.6 749.9,576.5 750.7,581.9 751.6,581.4 752.4,585.5 753.3,592.7 754.1,593.0 754.9,592.5 755.8,596.6 756.6,603.4 757.5,604.5 758.3,611.0 759.2,615.8 760.0,614.6 760.9,618.4 761.7,620.9 762.6,625.0 763.4,627.3 764.3,632.1 765.1,633.0 766.0,635.3 766.8,640.0 767.7,641.2 768.5,649.3 769.4,650.2 770.2,648.6 771.0,650.8 771.9,656.6 772.7,660.0 773.6,665.0 774.4,664.6 775.3,666.4 776.1,673.4 777.0,672.1 777.8,674.9 778.7,677.5 779.5,683.0 780.4,682.4 781.2,688.6 782.1,685.6 782.9,690.4 783.8,695.1 784.6,693.0 785.4,695.7 786.3,701.1 787.1,698.4 788.0,706.2 788.8,706.1 789.7,706.8 790.5,714.7 791.4,711.3 792.2,715.2 793.1,717.1 793.9,720.8 794.8,720.5 795.6,724.8 796.5,726.4 797.3,727.4 798.2,730.5 799.0,727.9 799.8,734.2 800.7,735.1 801.5,736.1 802.4,737.3 803.2,737.7 804.1,739.4 804.9,742.7 805.8,744.4 806.6,745.3 807.5,745.6 808.3,747.3 809.2,750.6 810.0,754.3 810.9,749.6 811.7,752.7 812.6,755.1 813.4,756.3 814.3,758.9 815.1,760.8 815.9,761.2 816.8,762.3 817.6,764.1 818.5,766.4 819.3,766.0 820.2,766.0 821.0,768.6 821.9,769.0 822.7,772.9 823.6,771.5 824.4,772.4 825.3,774.9 826.1,776.6 827.0,774.8 827.8,777.4 828.7,776.7 829.5,778.8 830.3,778.4 831.2,780.6 832.0,783.0 832.9,782.1 833.7,783.2 834.6,782.9 835.4,785.1 836.3,785.9 837.1,785.2 838.0,785.6 838.8,786.9 839.7,787.4 840.5,788.9 841.4,789.2 842.2,789.9 843.1,791.2 843.9,792.3 844.7,792.9 845.6,791.0 846.4,794.5 847.3,795.5 848.1,796.3 849.0,796.6 849.8,796.9 850.7,799.1 851.5,800.7 852.4,798.8 853.2,801.6 854.1,800.1 854.9,800.8 855.8,800.3 856.6,800.3 857.5,802.4 858.3,803.9 859.2,805.2 860.0,805.3 860.8,805.0 861.7,807.8 862.5,806.0 863.4,806.7 864.2,806.5 865.1,808.1 865.9,808.1 866.8,809.5 867.6,809.7 868.5,811.6 869.3,810.1 870.2,809.1 871.0,811.0 871.9,811.3 872.7,813.1 873.6,811.1 874.4,813.8 875.2,812.7 876.1,813.8 876.9,815.3 877.8,813.8 878.6,815.2 879.5,815.5 880.3,815.7 881.2,816.5 882.0,817.3 882.9,816.9 883.7,818.1 884.6,818.1 885.4,819.2 886.3,820.3 887.1,819.9 888.0,820.1 888.8,820.0 889.6,819.3 890.5,822.4 891.3,821.0 892.2,823.5 893.0,822.8 893.9,822.7 894.7,824.6 895.6,824.6 896.4,823.1 897.3,823.5 898.1,824.0 899.0,824.9 899.8,822.6 900.7,825.0 901.5,825.9 902.4,823.9 903.2,825.2 904.1,826.3 904.9,825.3 905.7,826.5 906.6,826.3 907.4,827.0 908.3,828.3 909.1,826.9 910.0,827.8 910.8,829.1 911.7,829.2 912.5,828.0 913.4,829.3 914.2,829.2 915.1,829.0 915.9,829.7 916.8,831.3 917.6,829.7 918.5,829.7 919.3,830.0 920.1,829.6 921.0,830.9 921.8,830.7 922.7,830.3 923.5,832.1 924.4,830.6 925.2,830.8 926.1,831.8 926.9,831.2 927.8,832.2 928.6,833.8 929.5,832.3 930.3,833.2 931.2,833.3 932.0,833.7 932.9,832.9 933.7,833.7 934.5,834.9 935.4,834.1 936.2,834.1 937.1,835.4 937.9,835.3 938.8,835.5 939.6,835.8 940.5,835.2 941.3,834.8 942.2,834.3 943.0,835.0 943.9,835.3 944.7,835.3 945.6,835.3 946.4,836.8 947.3,836.1 948.1,836.5 948.9,837.0 949.8,837.4 950.6,837.5 951.5,837.5 952.3,838.3 953.2,837.1 954.0,837.6 954.9,837.6 955.7,837.6 956.6,837.4 957.4,838.5 958.3,838.2 959.1,839.5 960.0,840.0 960.8,839.9 961.7,837.4 962.5,840.0 963.4,838.4 964.2,837.8 965.0,839.3 965.9,837.8 966.7,837.8 967.6,838.5 968.4,837.5 969.3,838.9 970.1,840.0 971.0,839.1 971.8,839.9 972.7,840.6 973.5,840.7 974.4,838.1 975.2,840.3 976.1,840.0 976.9,840.5 977.8,840.0 978.6,840.3 979.4,840.5 980.3,841.1 981.1,841.3 982.0,840.9 982.8,840.2 983.7,839.0 984.5,839.8 985.4,839.3 986.2,840.3 987.1,840.8 987.9,841.7 988.8,840.8 989.6,842.4 990.5,841.1 991.3,839.8 992.2,840.8 993.0,840.3 993.8,841.4 994.7,842.1 995.5,841.6 996.4,841.5 997.2,840.5 998.1,840.0 998.9,841.9 999.8,841.7 1000.6,841.6 1001.5,841.8 1002.3,842.4 1003.2,841.5 1004.0,841.4 1004.9,841.4 1005.7,842.6 1006.6,841.8 1007.4,843.0 1008.3,841.2 1009.1,842.6 1009.9,842.1 1010.8,842.3 1011.6,842.4 1012.5,842.8 1013.3,843.3 1014.2,840.9 1015.0,841.9 1015.9,842.0 1016.7,840.7 1017.6,842.3 1018.4,841.9 1019.3,842.3 1020.1,841.5 1021.0,842.0 1021.8,842.1 1022.7,842.6 1023.5,842.2 1024.3,841.6 1025.2,843.9 1026.0,842.6 1026.9,842.8 1027.7,842.7 1028.6,843.9 1029.4,842.1 1030.3,843.2 1031.1,842.8 1032.0,843.0 1032.8,843.8 1033.7,843.0 1034.5,844.0 1035.4,843.4 1036.2,843.0 1037.1,842.8 1037.9,842.8 1038.7,842.9 1039.6,841.4 1040.4,842.6 1041.3,843.7 1042.1,843.4 1043.0,843.4 1043.8,843.1 1044.7,843.4 1045.5,843.6 1046.4,841.9 1047.2,843.0 1048.1,843.3 1048.9,843.3 1049.8,843.3 1050.6,842.2 1051.5,842.8 1052.3,842.4 1053.2,844.7 1054.0,843.0 1054.8,842.5 1055.7,841.9 1056.5,843.2 1057.4,844.4 1058.2,842.9 1059.1,843.7 1059.9,844.5 1060.8,843.7 1061.6,842.6 1062.5,842.5 1063.3,842.8 1064.2,844.0 1065.0,841.6 1065.9,844.1 1066.7,843.4 1067.6,844.3 1068.4,842.5 1069.2,843.1 1070.1,842.8 1070.9,843.3 1071.8,843.5 1072.6,843.3 1073.5,844.7 1074.3,842.8 1075.2,842.8 1076.0,843.7 1076.9,843.5 1077.7,843.2 1078.6,842.4 1079.4,843.2 1080.3,843.4 1081.1,843.8 1082.0,844.5 1082.8,843.9 1083.6,843.4 1084.5,843.7 1085.3,843.5 1086.2,843.0 1087.0,843.2 1087.9,843.3 1088.7,843.1 1089.6,843.4 1090.4,843.6 1091.3,843.2 1092.1,844.7 1093.0,842.7 1093.8,844.4 1094.7,843.0 1095.5,843.6 1096.4,842.8 1097.2,843.6 1098.1,844.2 1098.9,842.9 1099.7,843.5 1100.6,843.5 1101.4,843.6 1102.3,843.0 1103.1,843.1 1104.0,843.5 1104.8,844.7 1105.7,843.9 1106.5,843.6 1107.4,842.5 1108.2,843.4 1109.1,843.7 1109.9,842.9 1110.8,843.8 1111.6,843.7 1112.5,843.6 1113.3,844.7 1114.1,843.1 1115.0,843.4 1115.8,843.9 1116.7,844.5 1117.5,843.6 1118.4,842.8 1119.2,844.2 1120.1,844.5 1120.9,843.5 1121.8,844.7 1122.6,844.7 1123.5,844.1 1124.3,844.2 1125.2,844.0 1126.0,844.2 1126.9,843.6 1127.7,843.9 1128.5,844.2 1129.4,844.1 1130.2,843.4 1131.1,843.2 1131.9,843.2 1132.8,843.4 1133.6,844.7 1134.5,844.5 1135.3,844.1 1136.2,843.7 1137.0,844.7 1137.9,842.9 1138.7,843.7 1139.6,844.3 1140.4,843.8 1141.3,844.1 1142.1,844.4 1143.0,843.6 1143.8,844.2 1144.6,844.7 1145.5,844.3 1146.3,844.0 1147.2,844.7 1148.0,843.1 1148.9,844.7 1149.7,842.8 1150.6,843.3 1151.4,844.6 1152.3,843.9 1153.1,843.2 1154.0,844.1 1154.8,844.7 1155.7,843.9 1156.5,842.6 1157.4,844.7 1158.2,843.6" stroke="#00D800"/>
<path d="M141.6,835.4 142.4,835.5 143.3,835.7 144.1,835.7 145.0,834.7 145.8,835.0 146.7,836.3 147.5,834.3 148.4,836.6 149.2,835.1 150.1,835.5 150.9,834.7 151.8,835.4 152.6,834.9 153.5,835.7 154.3,835.0 155.2,835.5 156.0,834.1 156.8,836.4 157.7,834.9 158.5,835.5 159.4,835.8 160.2,836.4 161.1,835.6 161.9,837.1 162.8,837.1 163.6,835.5 164.5,837.2 165.3,835.0 166.2,836.3 167.0,835.9 167.9,836.1 168.7,835.8 169.6,836.4 170.4,836.5 171.3,836.3 172.1,835.5 172.9,835.4 173.8,835.3 174.6,836.1 175.5,836.5 176.3,837.7 177.2,835.9 178.0,835.8 178.9,836.8 179.7,835.9 180.6,835.5 181.4,836.5 182.3,835.8 183.1,836.4 184.0,837.9 184.8,837.0 185.7,837.0 186.5,836.3 187.3,837.4 188.2,837.1 189.0,837.5 189.9,836.8 190.7,836.8 191.6,836.1 192.4,836.3 193.3,836.8 194.1,836.7 195.0,836.8 195.8,836.9 196.7,835.8 197.5,838.9 198.4,837.1 199.2,836.8 200.1,836.2 200.9,837.9 201.7,836.8 202.6,836.4 203.4,837.5 204.3,838.6 205.1,837.4 206.0,838.1 206.8,836.7 207.7,837.9 208.5,835.9 209.4,837.1 210.2,837.9 211.1,837.7 211.9,838.1 212.8,837.0 213.6,836.2 214.5,837.5 215.3,836.7 216.2,838.1 217.0,837.2 217.8,835.7 218.7,838.5 219.5,836.6 220.4,836.6 221.2,838.9 222.1,838.6 222.9,838.3 223.8,836.9 224.6,837.9 225.5,837.7 226.3,837.1 227.2,837.6 228.0,837.5 228.9,837.9 229.7,836.9 230.6,838.3 231.4,836.5 232.2,838.0 233.1,838.4 233.9,837.3 234.8,837.5 235.6,839.3 236.5,837.7 237.3,838.9 238.2,838.5 239.0,837.3 239.9,838.6 240.7,837.7 241.6,838.3 242.4,836.6 243.3,838.1 244.1,838.9 245.0,838.8 245.8,838.7 246.6,837.9 247.5,838.0 248.3,837.2 249.2,837.8 250.0,837.9 250.9,837.7 251.7,838.0 252.6,837.7 253.4,837.3 254.3,837.3 255.1,838.3 256.0,839.2 256.8,838.5 257.7,837.6 258.5,839.7 259.4,838.2 260.2,837.5 261.1,838.2 261.9,838.6 262.7,836.5 263.6,836.7 264.4,838.0 265.3,836.8 266.1,836.8 267.0,838.6 267.8,835.7 268.7,838.4 269.5,837.9 270.4,838.5 271.2,837.6 272.1,838.7 272.9,837.7 273.8,836.9 274.6,837.5 275.5,837.8 276.3,836.5 277.1,838.3 278.0,836.9 278.8,837.8 279.7,837.4 280.5,837.6 281.4,837.5 282.2,837.6 283.1,838.1 283.9,838.0 284.8,837.2 285.6,837.6 286.5,838.4 287.3,838.0 288.2,838.0 289.0,837.5 289.9,837.3 290.7,837.4 291.5,838.0 292.4,837.4 293.2,838.5 294.1,839.6 294.9,837.5 295.8,838.7 296.6,838.1 297.5,838.3 298.3,836.9 299.2,838.3 300.0,837.2 300.9,837.7 301.7,838.3 302.6,838.5 303.4,837.0 304.3,837.0 305.1,836.7 306.0,835.9 306.8,837.1 307.6,837.1 308.5,837.4 309.3,837.2 310.2,837.5 311.0,837.9 311.9,835.7 312.7,838.6 313.6,837.0 314.4,836.8 315.3,837.0 316.1,837.9 317.0,837.3 317.8,837.4 318.7,837.9 319.5,837.1 320.4,837.3 321.2,837.4 322.0,836.5 322.9,837.8 323.7,836.6 324.6,837.4 325.4,836.6 326.3,836.9 327.1,836.7 328.0,837.6 328.8,837.4 329.7,837.5 330.5,836.7 331.4,836.2 332.2,836.0 333.1,837.1 333.9,836.7 334.8,838.0 335.6,838.4 336.4,837.3 337.3,837.2 338.1,837.8 339.0,838.0 339.8,836.2 340.7,837.2 341.5,837.9 342.4,834.8 343.2,836.4 344.1,836.8 344.9,836.0 345.8,837.1 346.6,835.2 347.5,837.6 348.3,837.4 349.2,836.5 350.0,837.0 350.9,835.3 351.7,837.6 352.5,836.9 353.4,836.1 354.2,835.9 355.1,835.5 355.9,836.0 356.8,834.5 357.6,836.6 358.5,836.1 359.3,835.5 360.2,836.4 361.0,836.4 361.9,836.5 362.7,836.6 363.6,836.9 364.4,836.5 365.3,837.2 366.1,835.7 366.9,837.2 367.8,834.3 368.6,834.5 369.5,835.0 370.3,836.0 371.2,836.2 372.0,834.8 372.9,835.6 373.7,835.2 374.6,836.2 375.4,834.8 376.3,836.2 377.1,835.5 378.0,836.8 378.8,836.0 379.7,835.0 380.5,835.8 381.3,835.7 382.2,834.7 383.0,835.4 383.9,834.3 384.7,837.1 385.6,834.8 386.4,834.8 387.3,836.3 388.1,836.1 389.0,834.4 389.8,835.9 390.7,835.5 391.5,834.5 392.4,835.2 393.2,834.5 394.1,835.6 394.9,834.6 395.8,834.0 396.6,834.5 397.4,836.5 398.3,834.2 399.1,834.7 400.0,835.4 400.8,833.6 401.7,836.1 402.5,833.2 403.4,835.2 404.2,833.4 405.1,834.7 405.9,835.7 406.8,834.5 407.6,834.3 408.5,834.1 409.3,833.7 410.2,835.2 411.0,834.1 411.8,833.9 412.7,834.7 413.5,835.2 414.4,835.2 415.2,833.8 416.1,833.8 416.9,835.0 417.8,835.4 418.6,833.4 419.5,835.6 420.3,834.2 421.2,834.9 422.0,835.7 422.9,834.2 423.7,834.4 424.6,833.1 425.4,832.4 426.2,834.3 427.1,833.4 427.9,833.3 428.8,834.6 429.6,834.8 430.5,832.8 431.3,834.4 432.2,834.1 433.0,834.3 433.9,834.1 434.7,834.5 435.6,833.4 436.4,833.0 437.3,834.3 438.1,835.0 439.0,833.9 439.8,835.1 440.6,834.4 441.5,832.9 442.3,832.0 443.2,833.5 444.0,834.7 444.9,833.2 445.7,835.6 446.6,834.3 447.4,832.5 448.3,833.1 449.1,834.8 450.0,835.0 450.8,833.0 451.7,833.7 452.5,834.1 453.4,833.3 454.2,834.0 455.1,835.1 455.9,832.9 456.7,834.0 457.6,834.3 458.4,834.5 459.3,833.3 460.1,834.1 461.0,832.9 461.8,833.6 462.7,832.5 463.5,833.7 464.4,833.8 465.2,834.9 466.1,834.2 466.9,832.7 467.8,830.8 468.6,834.2 469.5,834.0 470.3,832.9 471.1,832.7 472.0,833.6 472.8,833.0 473.7,834.3 474.5,833.3 475.4,832.3 476.2,831.6 477.1,833.1 477.9,833.1 478.8,832.5 479.6,831.9 480.5,832.4 481.3,833.4 482.2,832.4 483.0,831.9 483.9,833.2 484.7,833.7 485.5,832.2 486.4,832.2 487.2,831.7 488.1,832.4 488.9,832.9 489.8,832.7 490.6,833.1 491.5,833.0 492.3,832.7 493.2,832.6 494.0,831.2 494.9,833.1 495.7,832.0 496.6,832.4 497.4,830.7 498.3,831.6 499.1,832.1 500.0,831.0 500.8,831.6 501.6,831.9 502.5,830.2 503.3,830.8 504.2,829.9 505.0,830.3 505.9,830.5 506.7,830.9 507.6,831.8 508.4,830.2 509.3,830.7 510.1,830.0 511.0,830.5 511.8,830.9 512.7,831.0 513.5,829.4 514.4,828.8 515.2,829.9 516.0,829.1 516.9,828.1 517.7,829.8 518.6,829.1 519.4,829.6 520.3,827.3 521.1,827.8 522.0,828.1 522.8,828.8 523.7,827.2 524.5,825.8 525.4,826.5 526.2,826.2 527.1,824.8 527.9,826.0 528.8,824.2 529.6,823.1 530.4,823.7 531.3,823.0 532.1,821.2 533.0,820.7 533.8,819.8 534.7,818.4 535.5,817.2 536.4,817.1 537.2,815.5 538.1,813.0 538.9,810.8 539.8,808.8 540.6,809.3 541.5,805.3 542.3,803.6 543.2,802.2 544.0,799.3 544.9,796.3 545.7,792.5 546.5,792.9 547.4,787.8 548.2,785.4 549.1,782.1 549.9,776.7 550.8,773.2 551.6,771.5 552.5,766.2 553.3,761.0 554.2,758.5 555.0,750.3 555.9,746.4 556.7,740.6 557.6,734.7 558.4,726.4 559.3,723.1 560.1,717.3 560.9,707.2 561.8,704.2 562.6,697.3 563.5,691.6 564.3,679.7 565.2,673.5 566.0,665.3 566.9,657.9 567.7,650.4 568.6,643.3 569.4,634.9 570.3,623.8 571.1,615.7 572.0,603.6 572.8,599.9 573.7,590.3 574.5,582.5 575.3,567.8 576.2,564.7 577.0,550.8 577.9,539.9 578.7,534.4 579.6,523.1 580.4,521.0 581.3,507.4 582.1,501.5 583.0,487.7 583.8,479.0 584.7,472.1 585.5,458.5 586.4,451.3 587.2,444.9 588.1,436.2 588.9,430.3 589.8,418.2 590.6,403.2 591.4,403.1 592.3,391.6 593.1,386.4 594.0,374.5 594.8,367.7 595.7,362.0 596.5,359.1 597.4,347.7 598.2,335.1 599.1,332.3 599.9,322.4 600.8,318.8 601.6,316.3 602.5,302.2 603.3,295.9 604.2,292.2 605.0,285.0 605.8,276.6 606.7,273.2 607.5,264.0 608.4,259.8 609.2,261.1 610.1,248.0 610.9,243.9 611.8,239.2 612.6,229.7 613.5,227.5 614.3,218.9 615.2,212.0 616.0,210.4 616.9,211.5 617.7,204.2 618.6,194.0 619.4,193.8 620.2,191.5 621.1,185.0 621.9,179.0 622.8,176.1 623.6,171.1 624.5,172.8 625.3,167.4 626.2,164.1 627.0,160.0 627.9,164.3 628.7,154.7 629.6,155.7 630.4,143.1 631.3,139.6 632.1,136.4 633.0,136.8 633.8,138.7 634.7,130.7 635.5,132.2 636.3,126.5 637.2,129.2 638.0,125.2 638.9,118.5 639.7,110.8 640.6,114.5 641.4,103.2 642.3,98.4 643.1,110.3 644.0,102.7 644.8,103.2 645.7,97.4 646.5,96.1 647.4,91.7 648.2,85.4 649.1,83.1 649.9,83.4 650.7,82.4 651.6,80.1 652.4,78.4 653.3,75.3 654.1,76.2 655.0,73.2 655.8,79.1 656.7,70.4 657.5,66.2 658.4,71.5 659.2,77.1 660.1,66.3 660.9,72.4 661.8,82.2 662.6,71.6 663.5,68.3 664.3,69.1 665.1,65.8 666.0,68.1 666.8,70.0 667.7,78.0 668.5,74.9 669.4,70.2 670.2,68.6 671.1,75.4 671.9,74.4 672.8,70.9 673.6,80.6 674.5,81.7 675.3,76.2 676.2,75.6 677.0,79.7 677.9,88.0 678.7,81.0 679.6,87.9 680.4,82.5 681.2,87.4 682.1,88.4 682.9,89.5 683.8,96.5 684.6,94.3 685.5,95.7 686.3,101.9 687.2,101.8 688.0,112.4 688.9,110.2 689.7,116.3 690.6,124.6 691.4,125.2 692.3,130.9 693.1,135.1 694.0,137.0 694.8,137.8 695.6,147.1 696.5,150.0 697.3,160.3 698.2,159.3 699.0,160.3 699.9,166.2 700.7,172.2 701.6,180.6 702.4,187.0 703.3,188.8 704.1,198.1 705.0,202.7 705.8,200.2 706.7,211.6 707.5,207.3 708.4,223.4 709.2,222.1 710.0,232.6 710.9,233.1 711.7,242.2 712.6,243.7 713.4,249.4 714.3,255.4 715.1,257.3 716.0,259.1 716.8,271.0 717.7,271.2 718.5,278.8 719.4,284.2 720.2,282.1 721.1,301.1 721.9,301.3 722.8,309.9 723.6,310.1 724.5,314.8 725.3,307.1 726.1,322.9 727.0,323.4 727.8,329.9 728.7,340.2 729.5,342.3 730.4,343.6 731.2,353.0 732.1,357.8 732.9,361.9 733.8,372.8 734.6,375.6 735.5,377.0 736.3,381.3 737.2,390.5 738.0,393.6 738.9,397.9 739.7,402.8 740.5,405.2 741.4,411.8 742.2,416.5 743.1,425.8 743.9,429.5 744.8,430.5 745.6,440.6 746.5,440.2 747.3,447.6 748.2,452.8 749.0,453.6 749.9,461.9 750.7,467.1 751.6,471.3 752.4,474.1 753.3,471.6 754.1,489.1 754.9,488.2 755.8,493.4 756.6,495.0 757.5,502.9 758.3,512.8 759.2,507.7 760.0,518.3 760.9,520.2 761.7,527.9 762.6,531.6 763.4,534.5 764.3,535.6 765.1,539.9 766.0,547.7 766.8,549.3 767.7,555.6 768.5,558.6 769.4,562.7 770.2,565.7 771.0,572.6 771.9,575.5 772.7,578.7 773.6,583.0 774.4,588.9 775.3,587.1 776.1,595.8 777.0,596.8 777.8,601.8 778.7,603.3 779.5,614.3 780.4,608.7 781.2,617.1 782.1,622.8 782.9,623.4 783.8,622.3 784.6,629.4 785.4,636.2 786.3,637.9 787.1,637.5 788.0,646.2 788.8,646.9 789.7,650.2 790.5,648.4 791.4,656.2 792.2,656.0 793.1,662.8 793.9,665.8 794.8,665.2 795.6,668.7 796.5,675.8 797.3,674.1 798.2,676.7 799.0,681.6 799.8,682.6 800.7,685.0 801.5,688.9 802.4,691.4 803.2,694.0 804.1,695.6 804.9,699.7 805.8,699.7 806.6,704.5 807.5,703.9 808.3,706.3 809.2,710.1 810.0,708.9 810.9,709.1 811.7,712.2 812.6,718.6 813.4,716.2 814.3,719.8 815.1,722.1 815.9,724.8 816.8,725.6 817.6,725.2 818.5,728.2 819.3,731.5 820.2,733.5 821.0,734.7 821.9,734.8 822.7,734.4 823.6,740.4 824.4,740.4 825.3,742.4 826.1,744.4 827.0,744.2 827.8,745.4 828.7,749.7 829.5,750.5 830.3,748.6 831.2,751.2 832.0,752.2 832.9,755.0 833.7,756.0 834.6,756.1 835.4,758.7 836.3,760.7 837.1,760.4 838.0,760.3 838.8,764.1 839.7,762.4 840.5,764.0 841.4,767.2 842.2,767.1 843.1,768.2 843.9,768.4 844.7,769.4 845.6,773.0 846.4,774.1 847.3,771.9 848.1,774.1 849.0,774.7 849.8,775.7 850.7,775.1 851.5,779.6 852.4,777.6 853.2,780.9 854.1,779.8 854.9,779.9 855.8,784.2 856.6,782.8 857.5,784.5 858.3,785.4 859.2,785.8 860.0,787.9 860.8,788.6 861.7,787.4 862.5,788.0 863.4,790.5 864.2,792.3 865.1,788.6 865.9,790.8 866.8,792.4 867.6,794.7 868.5,794.9 869.3,794.7 870.2,796.7 871.0,794.5 871.9,796.9 872.7,797.3 873.6,799.5 874.4,800.0 875.2,800.6 876.1,800.0 876.9,801.3 877.8,801.9 878.6,801.9 879.5,802.6 880.3,801.8 881.2,804.3 882.0,805.7 882.9,805.2 883.7,804.3 884.6,807.0 885.4,806.9 886.3,807.9 887.1,807.6 888.0,808.3 888.8,810.0 889.6,809.9 890.5,809.2 891.3,809.6 892.2,810.3 893.0,810.9 893.9,812.6 894.7,813.1 895.6,812.3 896.4,814.9 897.3,814.2 898.1,816.5 899.0,815.5 899.8,816.3 900.7,817.2 901.5,815.9 902.4,817.6 903.2,817.7 904.1,818.0 904.9,818.9 905.7,817.3 906.6,819.5 907.4,819.3 908.3,821.1 909.1,820.7 910.0,820.9 910.8,821.3 911.7,821.9 912.5,821.6 913.4,820.7 914.2,822.6 915.1,823.0 915.9,823.6 916.8,821.3 917.6,822.5 918.5,823.7 919.3,823.9 920.1,825.5 921.0,825.3 921.8,825.3 922.7,825.7 923.5,826.9 924.4,827.1 925.2,826.3 926.1,826.8 926.9,829.1 927.8,827.5 928.6,826.8 929.5,828.7 930.3,828.2 931.2,829.9 932.0,828.3 932.9,830.1 933.7,830.5 934.5,830.0 935.4,828.0 936.2,830.7 937.1,831.5 937.9,830.3 938.8,830.7 939.6,829.8 940.5,832.4 941.3,832.8 942.2,832.0 943.0,831.7 943.9,831.9 944.7,831.5 945.6,833.8 946.4,833.4 947.3,833.1 948.1,832.5 948.9,832.9 949.8,833.8 950.6,834.5 951.5,833.2 952.3,833.3 953.2,832.1 954.0,834.5 954.9,833.2 955.7,835.6 956.6,835.2 957.4,835.5 958.3,835.5 959.1,835.9 960.0,835.8 960.8,835.6 961.7,836.0 962.5,835.3 963.4,836.0 964.2,836.1 965.0,835.1 965.9,836.1 966.7,836.3 967.6,836.6 968.4,836.6 969.3,836.3 970.1,837.5 971.0,836.1 971.8,835.9 972.7,836.3 973.5,837.7 974.4,838.6 975.2,837.8 976.1,837.5 976.9,837.1 977.8,837.9 978.6,838.1 979.4,836.8 980.3,838.5 981.1,837.3 982.0,837.5 982.8,839.2 983.7,838.1 984.5,838.8 985.4,839.2 986.2,839.9 987.1,839.8 987.9,838.4 988.8,839.1 989.6,838.7 990.5,839.7 991.3,839.2 992.2,839.3 993.0,840.3 993.8,840.4 994.7,839.0 995.5,839.3 996.4,840.1 997.2,839.6 998.1,839.1 998.9,838.3 999.8,840.4 1000.6,839.3 1001.5,838.3 1002.3,839.9 1003.2,838.9 1004.0,841.9 1004.9,839.1 1005.7,840.1 1006.6,841.5 1007.4,839.7 1008.3,839.6 1009.1,839.5 1009.9,839.6 1010.8,840.5 1011.6,841.0 1012.5,840.9 1013.3,840.6 1014.2,840.4 1015.0,841.0 1015.9,840.7 1016.7,840.2 1017.6,840.6 1018.4,839.3 1019.3,839.4 1020.1,841.8 1021.0,841.4 1021.8,842.0 1022.7,841.9 1023.5,840.8 1024.3,841.9 1025.2,842.0 1026.0,841.5 1026.9,840.8 1027.7,841.6 1028.6,841.6 1029.4,840.8 1030.3,841.1 1031.1,841.2 1032.0,840.9 1032.8,842.3 1033.7,841.5 1034.5,842.1 1035.4,841.0 1036.2,841.1 1037.1,842.5 1037.9,840.9 1038.7,842.6 1039.6,841.0 1040.4,841.7 1041.3,842.5 1042.1,842.7 1043.0,842.2 1043.8,842.0 1044.7,842.5 1045.5,841.7 1046.4,843.1 1047.2,842.1 1048.1,842.2 1048.9,843.5 1049.8,842.0 1050.6,843.1 1051.5,844.0 1052.3,842.7 1053.2,842.5 1054.0,841.7 1054.8,842.7 1055.7,841.4 1056.5,841.5 1057.4,841.7 1058.2,841.6 1059.1,842.2 1059.9,842.9 1060.8,842.0 1061.6,841.8 1062.5,842.3 1063.3,842.7 1064.2,843.6 1065.0,842.1 1065.9,842.3 1066.7,843.4 1067.6,842.5 1068.4,842.1 1069.2,842.7 1070.1,842.1 1070.9,842.1 1071.8,843.6 1072.6,842.8 1073.5,842.3 1074.3,842.0 1075.2,841.7 1076.0,843.9 1076.9,842.7 1077.7,842.2 1078.6,841.8 1079.4,841.5 1080.3,843.3 1081.1,842.9 1082.0,843.4 1082.8,842.1 1083.6,843.6 1084.5,841.9 1085.3,842.1 1086.2,842.4 1087.0,844.2 1087.9,843.2 1088.7,842.2 1089.6,843.7 1090.4,842.9 1091.3,842.8 1092.1,842.2 1093.0,842.6 1093.8,842.6 1094.7,843.1 1095.5,842.8 1096.4,842.9 1097.2,842.3 1098.1,842.9 1098.9,842.1 1099.7,844.0 1100.6,842.0 1101.4,843.0 1102.3,842.1 1103.1,842.8 1104.0,842.3 1104.8,841.9 1105.7,843.3 1106.5,842.8 1107.4,843.0 1108.2,842.8 1109.1,844.0 1109.9,843.0 1110.8,843.1 1111.6,843.5 1112.5,843.1 1113.3,844.0 1114.1,842.0 1115.0,842.6 1115.8,841.7 1116.7,843.5 1117.5,843.8 1118.4,842.8 1119.2,844.1 1120.1,842.8 1120.9,843.5 1121.8,843.2 1122.6,842.8 1123.5,843.0 1124.3,841.7 1125.2,842.6 1126.0,843.9 1126.9,842.4 1127.7,843.9 1128.5,843.0 1129.4,843.9 1130.2,843.6 1131.1,842.2 1131.9,843.4 1132.8,843.5 1133.6,843.5 1134.5,843.3 1135.3,842.1 1136.2,843.9 1137.0,843.9 1137.9,842.7 1138.7,844.2 1139.6,843.4 1140.4,842.4 1141.3,843.1 1142.1,843.5 1143.0,843.6 1143.8,843.8 1144.6,843.5 1145.5,843.1 1146.3,842.3 1147.2,842.5 1148.0,843.6 1148.9,843.7 1149.7,842.7 1150.6,844.4 1151.4,843.5 1152.3,843.4 1153.1,844.0 1154.0,843.9 1154.8,843.0 1155.7,844.3 1156.5,843.8 1157.4,843.7 1158.2,843.2" stroke="#0028FF"/>
<path d="M141.6,838.5 142.4,836.7 143.3,837.7 144.1,837.7 145.0,837.8 145.8,838.0 146.7,838.3 147.5,836.7 148.4,837.4 149.2,837.6 150.1,836.8 150.9,838.1 151.8,837.1 152.6,837.6 153.5,838.3 154.3,837.1 155.2,838.8 156.0,837.2 156.8,838.3 157.7,837.4 158.5,836.7 159.4,837.3 160.2,838.2 161.1,837.7 161.9,838.0 162.8,838.6 163.6,838.6 164.5,837.7 165.3,837.4 166.2,839.1 167.0,837.9 167.9,837.4 168.7,837.8 169.6,838.6 170.4,837.1 171.3,838.8 172.1,837.4 172.9,836.7 173.8,839.4 174.6,837.7 175.5,837.7 176.3,837.8 177.2,838.5 178.0,838.2 178.9,839.0 179.7,837.9 180.6,837.6 181.4,838.5 182.3,838.7 183.1,838.4 184.0,838.0 184.8,838.0 185.7,838.1 186.5,838.0 187.3,839.0 188.2,840.1 189.0,837.7 189.9,837.1 190.7,839.2 191.6,838.6 192.4,837.9 193.3,837.5 194.1,837.7 195.0,837.2 195.8,838.2 196.7,837.9 197.5,837.9 198.4,838.5 199.2,837.4 200.1,837.8 200.9,837.5 201.7,838.6 202.6,837.5 203.4,839.1 204.3,838.0 205.1,840.2 206.0,839.1 206.8,837.8 207.7,838.7 208.5,838.2 209.4,839.6 210.2,837.3 211.1,838.0 211.9,838.4 212.8,838.1 213.6,838.2 214.5,837.4 215.3,838.3 216.2,839.5 217.0,838.7 217.8,837.6 218.7,838.1 219.5,838.8 220.4,838.1 221.2,838.4 222.1,838.1 222.9,839.7 223.8,839.2 224.6,838.1 225.5,838.7 226.3,838.3 227.2,837.2 228.0,838.8 228.9,838.5 229.7,839.0 230.6,839.1 231.4,838.7 232.2,839.7 233.1,840.2 233.9,837.7 234.8,838.8 235.6,837.9 236.5,838.6 237.3,838.6 238.2,838.3 239.0,838.2 239.9,839.6 240.7,837.9 241.6,839.5 242.4,838.7 243.3,837.0 244.1,838.7 245.0,837.6 245.8,839.0 246.6,838.3 247.5,838.7 248.3,838.4 249.2,839.4 250.0,839.4 250.9,838.5 251.7,839.8 252.6,839.3 253.4,838.2 254.3,839.1 255.1,839.3 256.0,839.4 256.8,838.5 257.7,838.9 258.5,838.5 259.4,838.7 260.2,837.2 261.1,838.9 261.9,840.0 262.7,838.5 263.6,838.5 264.4,838.4 265.3,839.7 266.1,837.7 267.0,838.5 267.8,838.5 268.7,839.6 269.5,838.1 270.4,838.5 271.2,837.4 272.1,838.7 272.9,839.3 273.8,838.3 274.6,839.0 275.5,838.1 276.3,839.1 277.1,838.4 278.0,838.5 278.8,838.3 279.7,838.7 280.5,838.9 281.4,838.3 282.2,838.7 283.1,838.2 283.9,838.4 284.8,839.9 285.6,838.3 286.5,837.2 287.3,838.0 288.2,837.8 289.0,837.8 289.9,838.5 290.7,839.1 291.5,837.6 292.4,837.4 293.2,837.7 294.1,837.8 294.9,837.8 295.8,838.1 296.6,837.9 297.5,838.1 298.3,837.8 299.2,838.7 300.0,838.5 300.9,837.6 301.7,838.2 302.6,839.7 303.4,837.9 304.3,839.6 305.1,836.6 306.0,837.4 306.8,837.4 307.6,838.4 308.5,838.7 309.3,838.0 310.2,837.9 311.0,838.4 311.9,837.7 312.7,837.3 313.6,837.4 314.4,838.6 315.3,839.4 316.1,837.8 317.0,838.3 317.8,837.5 318.7,836.6 319.5,836.6 320.4,837.5 321.2,836.9 322.0,836.5 322.9,837.7 323.7,837.5 324.6,837.1 325.4,837.7 326.3,838.0 327.1,838.2 328.0,837.6 328.8,838.1 329.7,837.0 330.5,837.8 331.4,836.5 332.2,836.7 333.1,838.4 333.9,836.8 334.8,837.8 335.6,836.5 336.4,837.1 337.3,837.5 338.1,837.0 339.0,837.9 339.8,837.2 340.7,837.2 341.5,837.5 342.4,837.1 343.2,838.1 344.1,837.0 344.9,838.3 345.8,836.9 346.6,837.0 347.5,836.8 348.3,837.7 349.2,835.1 350.0,837.5 350.9,837.2 351.7,837.8 352.5,836.2 353.4,837.6 354.2,836.5 355.1,837.9 355.9,837.0 356.8,837.5 357.6,836.5 358.5,837.4 359.3,837.8 360.2,836.8 361.0,838.0 361.9,837.8 362.7,836.6 363.6,838.5 364.4,836.6 365.3,837.4 366.1,837.7 366.9,836.9 367.8,836.6 368.6,837.5 369.5,837.2 370.3,836.5 371.2,836.5 372.0,837.0 372.9,837.6 373.7,837.7 374.6,837.4 375.4,836.5 376.3,836.5 377.1,836.7 378.0,835.9 378.8,837.1 379.7,837.2 380.5,837.2 381.3,835.5 382.2,838.4 383.0,836.7 383.9,836.5 384.7,836.8 385.6,835.2 386.4,836.0 387.3,836.3 388.1,837.5 389.0,836.4 389.8,837.1 390.7,836.8 391.5,836.6 392.4,837.1 393.2,836.3 394.1,835.6 394.9,836.0 395.8,836.6 396.6,838.1 397.4,835.9 398.3,835.9 399.1,836.8 400.0,837.0 400.8,836.2 401.7,837.2 402.5,836.1 403.4,837.4 404.2,837.3 405.1,836.6 405.9,837.7 406.8,836.6 407.6,836.2 408.5,837.5 409.3,835.9 410.2,837.0 411.0,836.1 411.8,836.4 412.7,836.9 413.5,836.9 414.4,837.7 415.2,837.0 416.1,837.0 416.9,835.3 417.8,835.7 418.6,837.4 419.5,835.9 420.3,836.3 421.2,836.7 422.0,836.1 422.9,835.8 423.7,836.8 424.6,836.6 425.4,836.2 426.2,837.1 427.1,836.2 427.9,836.4 428.8,836.8 429.6,836.9 430.5,836.1 431.3,835.7 432.2,836.0 433.0,836.9 433.9,835.7 434.7,836.1 435.6,835.8 436.4,835.4 437.3,836.9 438.1,836.3 439.0,836.6 439.8,836.8 440.6,834.7 441.5,835.5 442.3,837.4 443.2,835.8 444.0,836.5 444.9,835.3 445.7,836.0 446.6,836.2 447.4,836.0 448.3,835.8 449.1,836.0 450.0,836.2 450.8,836.1 451.7,835.7 452.5,836.8 453.4,836.0 454.2,836.1 455.1,836.3 455.9,835.4 456.7,836.9 457.6,836.2 458.4,836.5 459.3,835.5 460.1,836.2 461.0,835.8 461.8,835.6 462.7,837.0 463.5,835.5 464.4,836.4 465.2,836.0 466.1,835.9 466.9,835.2 467.8,835.2 468.6,834.5 469.5,835.6 470.3,836.1 471.1,836.1 472.0,835.2 472.8,834.5 473.7,835.4 474.5,836.0 475.4,835.4 476.2,835.4 477.1,835.5 477.9,836.1 478.8,837.4 479.6,835.9 480.5,834.7 481.3,835.3 482.2,837.0 483.0,835.4 483.9,836.7 484.7,833.8 485.5,835.1 486.4,836.1 487.2,834.6 488.1,835.7 488.9,834.7 489.8,835.0 490.6,835.8 491.5,834.4 492.3,835.9 493.2,833.8 494.0,834.7 494.9,835.5 495.7,836.0 496.6,833.4 497.4,833.5 498.3,835.4 499.1,833.2 500.0,834.2 500.8,834.4 501.6,834.3 502.5,834.3 503.3,833.0 504.2,833.9 505.0,835.3 505.9,832.3 506.7,833.1 507.6,834.5 508.4,833.8 509.3,834.1 510.1,833.3 511.0,832.9 511.8,832.9 512.7,833.4 513.5,833.4 514.4,832.1 515.2,832.6 516.0,830.7 516.9,832.8 517.7,831.4 518.6,831.8 519.4,832.2 520.3,830.3 521.1,831.0 522.0,831.5 522.8,830.7 523.7,829.4 524.5,830.9 525.4,828.5 526.2,828.7 527.1,829.0 527.9,827.3 528.8,826.5 529.6,826.9 530.4,826.7 531.3,824.7 532.1,824.3 533.0,825.5 533.8,824.1 534.7,823.3 535.5,822.5 536.4,822.4 537.2,819.2 538.1,818.8 538.9,817.5 539.8,814.9 540.6,815.2 541.5,813.2 542.3,811.1 543.2,810.0 544.0,807.7 544.9,804.8 545.7,803.4 546.5,799.6 547.4,799.3 548.2,795.7 549.1,794.7 549.9,790.3 550.8,787.9 551.6,782.2 552.5,779.5 553.3,776.2 554.2,770.7 555.0,767.3 555.9,764.3 556.7,762.2 557.6,759.0 558.4,752.8 559.3,748.9 560.1,744.7 560.9,739.5 561.8,736.6 562.6,727.0 563.5,725.8 564.3,719.8 565.2,712.5 566.0,710.5 566.9,700.8 567.7,695.0 568.6,691.3 569.4,686.7 570.3,679.7 571.1,676.1 572.0,664.2 572.8,660.5 573.7,655.7 574.5,649.8 575.3,640.6 576.2,632.1 577.0,630.9 577.9,622.8 578.7,618.5 579.6,606.8 580.4,601.2 581.3,590.1 582.1,588.5 583.0,582.5 583.8,576.6 584.7,566.6 585.5,565.7 586.4,553.9 587.2,548.7 588.1,544.1 588.9,538.8 589.8,528.1 590.6,520.0 591.4,519.5 592.3,511.2 593.1,502.4 594.0,502.3 594.8,495.7 595.7,492.4 596.5,484.2 597.4,478.5 598.2,474.0 599.1,469.5 599.9,466.4 600.8,460.7 601.6,454.7 602.5,445.4 603.3,443.6 604.2,439.7 605.0,430.9 605.8,426.5 606.7,425.5 607.5,420.7 608.4,412.8 609.2,409.3 610.1,408.4 610.9,401.3 611.8,398.0 612.6,390.9 613.5,392.6 614.3,383.9 615.2,381.6 616.0,382.1 616.9,372.8 617.7,369.8 618.6,373.0 619.4,360.3 620.2,366.3 621.1,362.7 621.9,358.1 622.8,352.2 623.6,350.0 624.5,349.4 625.3,342.6 626.2,343.1 627.0,337.8 627.9,331.3 628.7,336.9 629.6,343.0 630.4,334.5 631.3,334.3 632.1,328.8 633.0,326.8 633.8,328.8 634.7,326.5 635.5,321.8 636.3,319.6 637.2,324.9 638.0,311.9 638.9,312.7 639.7,310.7 640.6,307.6 641.4,309.5 642.3,304.4 643.1,298.8 644.0,296.6 644.8,296.3 645.7,296.6 646.5,296.2 647.4,287.6 648.2,288.3 649.1,289.5 649.9,293.4 650.7,287.8 651.6,289.8 652.4,278.6 653.3,280.9 654.1,282.9 655.0,280.6 655.8,270.8 656.7,274.6 657.5,282.3 658.4,278.1 659.2,281.3 660.1,282.6 660.9,276.3 661.8,269.0 662.6,271.6 663.5,276.4 664.3,277.6 665.1,275.7 666.0,273.0 666.8,281.1 667.7,282.4 668.5,270.5 669.4,275.8 670.2,271.7 671.1,276.4 671.9,272.8 672.8,280.0 673.6,277.0 674.5,274.3 675.3,276.7 676.2,282.4 677.0,279.0 677.9,285.1 678.7,288.8 679.6,283.8 680.4,282.5 681.2,285.9 682.1,294.3 682.9,289.3 683.8,291.9 684.6,297.6 685.5,306.2 686.3,297.3 687.2,300.1 688.0,303.9 688.9,313.5 689.7,315.4 690.6,310.3 691.4,313.8 692.3,317.8 693.1,323.1 694.0,324.2 694.8,330.3 695.6,332.8 696.5,337.8 697.3,337.6 698.2,343.1 699.0,342.3 699.9,346.5 700.7,354.7 701.6,350.2 702.4,362.7 703.3,361.6 704.1,363.3 705.0,366.4 705.8,380.5 706.7,374.6 707.5,377.6 708.4,380.7 709.2,395.2 710.0,394.3 710.9,396.3 711.7,401.1 712.6,399.6 713.4,409.1 714.3,407.4 715.1,413.0 716.0,422.5 716.8,424.8 717.7,427.0 718.5,429.1 719.4,430.3 720.2,437.2 721.1,437.9 721.9,448.4 722.8,456.1 723.6,452.3 724.5,453.7 725.3,459.6 726.1,465.0 727.0,464.7 727.8,464.3 728.7,473.4 729.5,478.7 730.4,482.6 731.2,478.7 732.1,487.6 732.9,489.5 733.8,491.5 734.6,495.5 735.5,504.3 736.3,503.0 737.2,506.9 738.0,511.4 738.9,513.6 739.7,521.1 740.5,523.5 741.4,528.1 742.2,528.5 743.1,535.5 743.9,536.5 744.8,543.7 745.6,544.8 746.5,548.9 747.3,551.8 748.2,554.7 749.0,559.0 749.9,562.5 750.7,570.3 751.6,566.3 752.4,573.8 753.3,576.4 754.1,581.1 754.9,580.3 755.8,588.1 756.6,588.2 757.5,590.1 758.3,592.4 759.2,596.8 760.0,601.3 760.9,608.6 761.7,606.4 762.6,609.9 763.4,613.9 764.3,617.2 765.1,621.9 766.0,626.3 766.8,626.0 767.7,628.7 768.5,636.6 769.4,635.6 770.2,640.0 771.0,641.7 771.9,645.9 772.7,647.1 773.6,650.2 774.4,653.3 775.3,660.6 776.1,659.1 777.0,663.4 777.8,668.3 778.7,667.5 779.5,674.1 780.4,672.5 781.2,673.6 782.1,680.3 782.9,680.2 783.8,683.5 784.6,685.6 785.4,691.7 786.3,690.6 787.1,693.8 788.0,695.0 788.8,698.6 789.7,699.0 790.5,702.6 791.4,704.1 792.2,705.1 793.1,709.3 793.9,710.0 794.8,713.4 795.6,714.9 796.5,718.6 797.3,718.4 798.2,719.6 799.0,723.7 799.8,724.1 800.7,726.5 801.5,730.8 802.4,730.2 803.2,730.5 804.1,735.0 804.9,738.7 805.8,737.3 806.6,740.2 807.5,738.0 808.3,742.4 809.2,743.9 810.0,746.4 810.9,746.6 811.7,749.2 812.6,751.1 813.4,751.3 814.3,753.8 815.1,752.1 815.9,757.0 816.8,756.7 817.6,758.9 818.5,761.1 819.3,758.1 820.2,764.5 821.0,760.9 821.9,765.9 822.7,765.1 823.6,763.3 824.4,770.3 825.3,770.4 826.1,767.9 827.0,770.5 827.8,772.4 828.7,772.8 829.5,775.0 830.3,774.6 831.2,773.8 832.0,777.2 832.9,777.5 833.7,777.0 834.6,777.0 835.4,781.1 836.3,780.9 837.1,782.8 838.0,783.8 838.8,784.3 839.7,785.4 840.5,787.6 841.4,788.7 842.2,788.0 843.1,787.7 843.9,787.2 844.7,790.0 845.6,790.3 846.4,790.1 847.3,790.8 848.1,792.5 849.0,793.1 849.8,791.6 850.7,794.8 851.5,795.7 852.4,797.6 853.2,796.0 854.1,797.4 854.9,795.6 855.8,798.8 856.6,798.1 857.5,798.6 858.3,798.4 859.2,802.3 860.0,799.7 860.8,802.0 861.7,802.7 862.5,803.5 863.4,804.2 864.2,804.7 865.1,807.3 865.9,804.9 866.8,805.9 867.6,807.5 868.5,807.1 869.3,805.2 870.2,807.7 871.0,809.0 871.9,807.3 872.7,810.4 873.6,810.2 874.4,811.1 875.2,811.3 876.1,810.8 876.9,811.4 877.8,813.2 878.6,813.0 879.5,813.3 880.3,814.2 881.2,814.3 882.0,815.4 882.9,815.8 883.7,815.5 884.6,816.9 885.4,816.0 886.3,817.0 887.1,818.1 888.0,818.2 888.8,818.4 889.6,818.5 890.5,818.7 891.3,819.4 892.2,820.3 893.0,818.6 893.9,819.5 894.7,820.5 895.6,820.1 896.4,821.1 897.3,822.0 898.1,822.0 899.0,820.0 899.8,821.9 900.7,822.2 901.5,823.8 902.4,823.2 903.2,822.1 904.1,824.0 904.9,823.7 905.7,823.9 906.6,824.7 907.4,824.2 908.3,825.7 909.1,825.8 910.0,827.0 910.8,824.5 911.7,826.8 912.5,827.2 913.4,826.4 914.2,828.3 915.1,828.1 915.9,829.0 916.8,828.6 917.6,829.2 918.5,828.7 919.3,829.5 920.1,830.1 921.0,830.1 921.8,830.2 922.7,830.7 923.5,829.8 924.4,830.2 925.2,830.9 926.1,832.2 926.9,831.0 927.8,832.6 928.6,831.7 929.5,832.0 930.3,832.7 931.2,833.1 932.0,833.2 932.9,831.2 933.7,833.2 934.5,833.3 935.4,832.6 936.2,833.2 937.1,832.9 937.9,834.8 938.8,834.9 939.6,831.7 940.5,834.4 941.3,834.8 942.2,834.6 943.0,834.1 943.9,835.9 944.7,834.9 945.6,835.3 946.4,834.9 947.3,835.4 948.1,836.1 948.9,836.5 949.8,837.8 950.6,835.4 951.5,837.3 952.3,836.7 953.2,835.3 954.0,836.9 954.9,836.3 955.7,837.0 956.6,836.4 957.4,837.0 958.3,837.5 959.1,836.3 960.0,837.6 960.8,838.5 961.7,837.8 962.5,837.3 963.4,838.6 964.2,837.3 965.0,837.4 965.9,836.5 966.7,838.6 967.6,837.8 968.4,839.5 969.3,838.7 970.1,838.4 971.0,838.3 971.8,838.7 972.7,838.8 973.5,839.2 974.4,839.2 975.2,838.7 976.1,838.6 976.9,838.6 977.8,838.5 978.6,838.4 979.4,840.6 980.3,839.7 981.1,839.5 982.0,839.9 982.8,838.8 983.7,839.1 984.5,839.7 985.4,839.6 986.2,838.9 987.1,840.1 987.9,840.1 988.8,839.3 989.6,839.7 990.5,839.1 991.3,839.9 992.2,839.7 993.0,840.6 993.8,840.9 994.7,840.4 995.5,842.2 996.4,840.2 997.2,839.8 998.1,840.5 998.9,840.8 999.8,839.9 1000.6,840.7 1001.5,840.1 1002.3,839.3 1003.2,840.4 1004.0,840.3 1004.9,840.6 1005.7,840.8 1006.6,840.9 1007.4,841.0 1008.3,840.4 1009.1,842.3 1009.9,841.4 1010.8,840.8 1011.6,841.9 1012.5,841.4 1013.3,841.9 1014.2,841.1 1015.0,840.9 1015.9,840.5 1016.7,841.2 1017.6,842.1 1018.4,841.4 1019.3,841.3 1020.1,840.7 1021.0,843.2 1021.8,841.5 1022.7,843.0 1023.5,841.4 1024.3,841.6 1025.2,841.6 1026.0,841.3 1026.9,841.7 1027.7,842.4 1028.6,841.8 1029.4,841.3 1030.3,842.2 1031.1,842.1 1032.0,843.0 1032.8,841.4 1033.7,842.5 1034.5,842.7 1035.4,842.6 1036.2,842.9 1037.1,842.5 1037.9,841.5 1038.7,841.9 1039.6,841.5 1040.4,841.5 1041.3,843.1 1042.1,842.2 1043.0,841.5 1043.8,841.0 1044.7,843.5 1045.5,843.5 1046.4,842.3 1047.2,842.9 1048.1,843.3 1048.9,842.5 1049.8,843.3 1050.6,844.2 1051.5,842.8 1052.3,842.7 1053.2,842.4 1054.0,842.2 1054.8,842.8 1055.7,843.1 1056.5,843.4 1057.4,844.0 1058.2,843.2 1059.1,842.3 1059.9,842.5 1060.8,841.6 1061.6,843.1 1062.5,844.2 1063.3,842.5 1064.2,842.3 1065.0,843.8 1065.9,844.1 1066.7,842.9 1067.6,842.6 1068.4,843.8 1069.2,843.3 1070.1,843.6 1070.9,843.8 1071.8,843.9 1072.6,843.0 1073.5,843.3 1074.3,843.5 1075.2,844.7 1076.0,842.0 1076.9,843.7 1077.7,843.2 1078.6,843.9 1079.4,842.9 1080.3,844.1 1081.1,843.1 1082.0,843.3 1082.8,842.6 1083.6,843.9 1084.5,843.6 1085.3,843.4 1086.2,841.8 1087.0,844.2 1087.9,843.0 1088.7,843.7 1089.6,843.0 1090.4,842.8 1091.3,843.2 1092.1,843.1 1093.0,843.1 1093.8,843.6 1094.7,843.4 1095.5,844.4 1096.4,843.5 1097.2,843.8 1098.1,843.5 1098.9,842.8 1099.7,843.1 1100.6,843.0 1101.4,842.6 1102.3,844.7 1103.1,843.1 1104.0,843.4 1104.8,843.4 1105.7,844.2 1106.5,843.0 1107.4,842.6 1108.2,842.7 1109.1,843.4 1109.9,843.0 1110.8,842.8 1111.6,842.2 1112.5,842.6 1113.3,843.3 1114.1,843.3 1115.0,843.3 1115.8,843.3 1116.7,843.8 1117.5,842.9 1118.4,843.9 1119.2,844.0 1120.1,843.2 1120.9,843.8 1121.8,843.6 1122.6,844.7 1123.5,843.0 1124.3,843.5 1125.2,843.6 1126.0,843.2 1126.9,843.4 1127.7,844.0 1128.5,842.2 1129.4,843.8 1130.2,842.9 1131.1,842.3 1131.9,843.9 1132.8,843.5 1133.6,844.1 1134.5,842.9 1135.3,843.8 1136.2,844.3 1137.0,842.7 1137.9,843.0 1138.7,844.2 1139.6,842.8 1140.4,843.5 1141.3,841.8 1142.1,842.5 1143.0,844.0 1143.8,843.8 1144.6,844.2 1145.5,843.5 1146.3,843.6 1147.2,843.2 1148.0,843.6 1148.9,844.6 1149.7,844.2 1150.6,842.7 1151.4,842.9 1152.3,843.8 1153.1,843.8 1154.0,843.8 1154.8,843.7 1155.7,844.7 1156.5,843.1 1157.4,844.1 1158.2,843.6" stroke="#5500D5"/>
</g>
<g class="ax">
<rect x="141.6" y="17.4" width="1016.6" height="827.3" fill="none" stroke="#000" stroke-width="3.7"/>
<line x1="226.3" y1="843.9" x2="226.3" y2="840.1"/>
<line x1="311.0" y1="843.9" x2="311.0" y2="834.7"/>
<line x1="395.8" y1="843.9" x2="395.8" y2="840.1"/>
<line x1="480.5" y1="843.9" x2="480.5" y2="834.7"/>
<line x1="565.2" y1="843.9" x2="565.2" y2="840.1"/>
<line x1="649.9" y1="843.9" x2="649.9" y2="834.7"/>
<line x1="734.6" y1="843.9" x2="734.6" y2="840.1"/>
<line x1="819.3" y1="843.9" x2="819.3" y2="834.7"/>
<line x1="904.1" y1="843.9" x2="904.1" y2="840.1"/>
<line x1="988.8" y1="843.9" x2="988.8" y2="834.7"/>
<line x1="1073.5" y1="843.9" x2="1073.5" y2="840.1"/>
<line x1="142.4" y1="762.0" x2="146.2" y2="762.0"/>
<line x1="142.4" y1="679.2" x2="151.6" y2="679.2"/>
<line x1="142.4" y1="596.5" x2="146.2" y2="596.5"/>
<line x1="142.4" y1="513.8" x2="151.6" y2="513.8"/>
<line x1="142.4" y1="431.1" x2="146.2" y2="431.1"/>
<line x1="142.4" y1="348.3" x2="151.6" y2="348.3"/>
<line x1="142.4" y1="265.6" x2="146.2" y2="265.6"/>
<line x1="142.4" y1="182.9" x2="151.6" y2="182.9"/>
<line x1="142.4" y1="100.1" x2="146.2" y2="100.1"/>
</g>
<g text-anchor="end">
<text transform="translate(129.1,854.0) scale(0.992,1.025)">0</text>
<text transform="translate(129.1,688.5) scale(0.992,1.025)">1000</text>
<text transform="translate(129.1,523.1) scale(0.992,1.025)">2000</text>
<text transform="translate(129.1,357.6) scale(0.992,1.025)">3000</text>
<text transform="translate(129.1,192.2) scale(0.992,1.025)">4000</text>
<text transform="translate(129.1,26.7) scale(0.992,1.025)">5000</text>
</g><g text-anchor="middle">
<text transform="translate(141.9,885.3) scale(0.992,1.025)">200</text>
<text transform="translate(311.3,885.3) scale(0.992,1.025)">300</text>
<text transform="translate(480.8,885.3) scale(0.992,1.025)">400</text>
<text transform="translate(650.2,885.3) scale(0.992,1.025)">500</text>
<text transform="translate(819.6,885.3) scale(0.992,1.025)">600</text>
<text transform="translate(989.1,885.3) scale(0.992,1.025)">700</text>
<text transform="translate(1158.5,885.3) scale(0.992,1.025)">800</text>
<text x="648.8" y="926.7">Wavelength (nm)</text>
<text transform="translate(27.8,438.5) rotate(-90)">Intensity (a.u.)</text>
</g>
<g class="lg">
<rect x="875.9" y="47.5" width="259.5" height="394.5" fill="#fff" stroke="#000" stroke-width="2.6"/>
<line x1="883.4" y1="79.1" x2="981.9" y2="79.1" stroke="#EB0069"/>
<text x="995.1" y="87.6"><tspan font-style="italic">g</tspan> = 1%</text>
<line x1="883.4" y1="134.5" x2="981.9" y2="134.5" stroke="#F81010"/>
<text x="995.1" y="143.0"><tspan font-style="italic">g</tspan> = 9%</text>
<line x1="883.4" y1="189.9" x2="981.9" y2="189.9" stroke="#EB6900"/>
<text x="995.1" y="198.4"><tspan font-style="italic">g</tspan> = 15%</text>
<line x1="883.4" y1="245.2" x2="981.9" y2="245.2" stroke="#E3DC30"/>
<text x="995.1" y="253.7"><tspan font-style="italic">g</tspan> = 23%</text>
<line x1="883.4" y1="300.6" x2="981.9" y2="300.6" stroke="#00D800"/>
<text x="995.1" y="309.1"><tspan font-style="italic">g</tspan> = 31%</text>
<line x1="883.4" y1="356.0" x2="981.9" y2="356.0" stroke="#0028FF"/>
<text x="995.1" y="364.5"><tspan font-style="italic">g</tspan> = 37%</text>
<line x1="883.4" y1="411.4" x2="981.9" y2="411.4" stroke="#5500D5"/>
<text x="995.1" y="419.9"><tspan font-style="italic">g</tspan> = 45%</text>
</g>
</svg></body></html>
